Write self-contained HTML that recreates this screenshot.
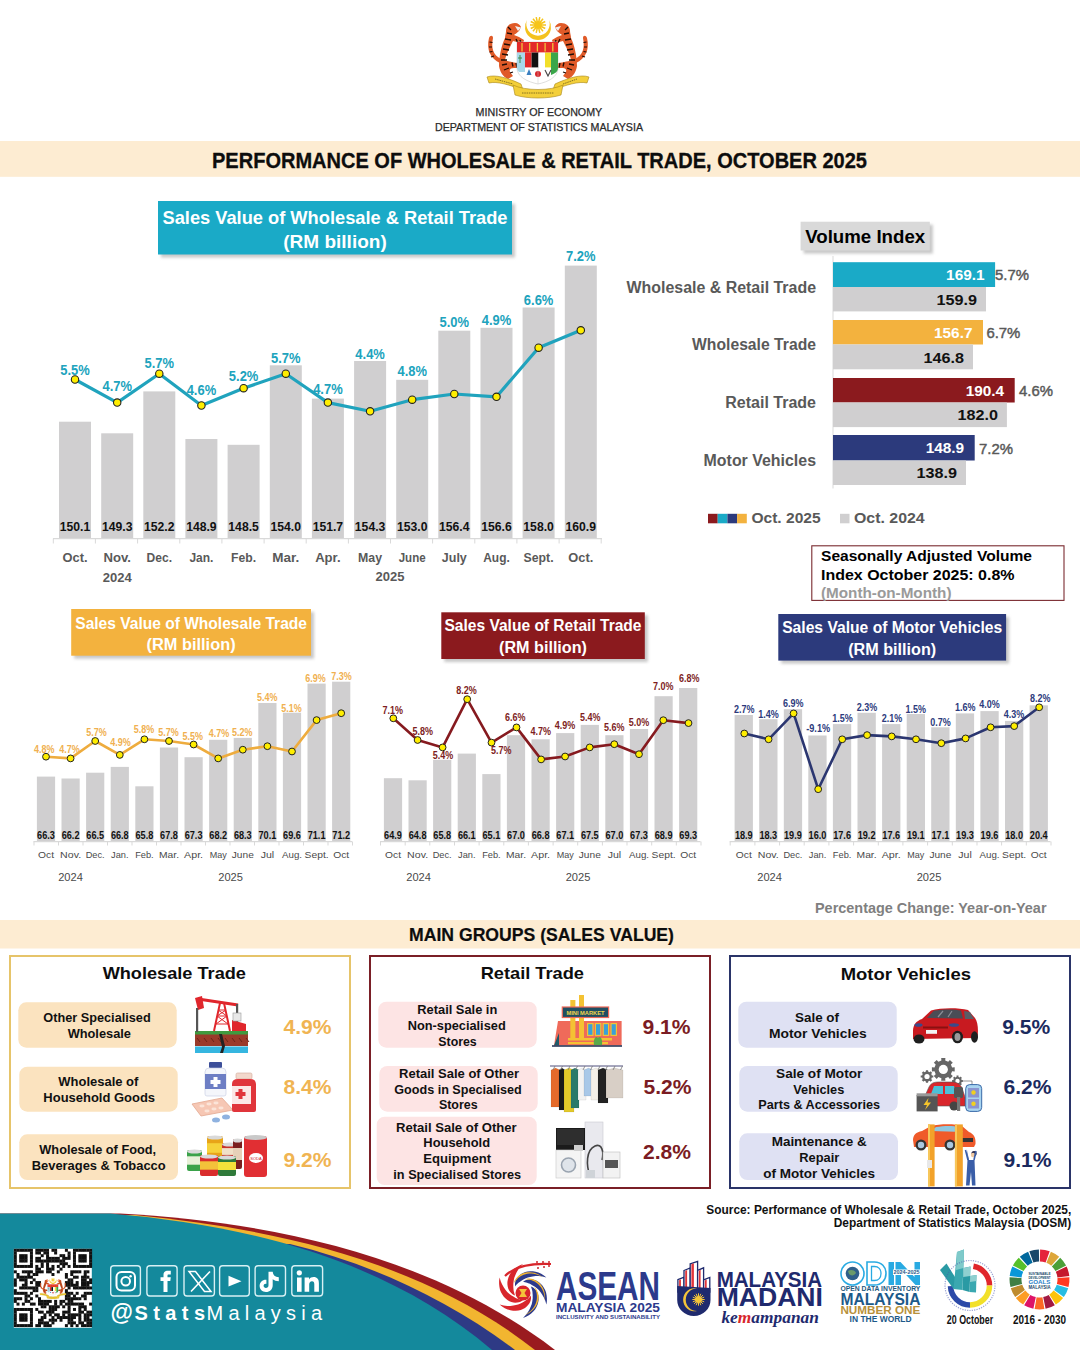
<!DOCTYPE html>
<html><head><meta charset="utf-8"><style>
html,body{margin:0;padding:0;background:#fff;}
svg{display:block;font-family:"Liberation Sans", sans-serif;}
</style></head><body>
<svg width="1080" height="1350" viewBox="0 0 1080 1350">
<defs><filter id="blur" x="-10%" y="-10%" width="120%" height="130%"><feGaussianBlur stdDeviation="1.5"/></filter></defs>
<rect width="1080" height="1350" fill="#fff"/>
<g>
<g><path d="M500 63 C491 59 486 50 489 38 C490 35 493 35 493 38 C491 48 493 55 501 59 Z" fill="#e05a28"/><path d="M489.5 42 l3 0.5 M489 47 l3 0 M489.5 52 l3 -0.5 M491 57 l3 -1" stroke="#1e0c06" stroke-width="1.2"/><path d="M506 31 C506 26 510 23 515 23 C518 23 520 25 521 27 L519 31 C517 33 515 34 514 35 L519 37 L524 40 L523 44 L517 42 L513 41 C510 47 506 54 505 60 C508 62 515 62 520 64 L521 68 L514 68 C511 68 509 69 510 72 L513 76 L508 79 C503 77 500 72 499 66 C499 56 502 44 505 38 C505 36 506 33 506 31 Z" fill="#e05a28"/><path d="M515 26 L521 27.5 L518 31 Z" fill="#f0f0f0"/><path d="M508 27 L511 30 M507 33 L512 34 M505 39 L511 40 M504 44 L510 45 M503 49 L509 50 M502 54 L508 55 M501 60 L507 60 M502 65 L507 64 M504 70 L509 68 M516 39 L518 43 M520 40 L521 43.5 M512 62.5 L513 66.5 M516 63 L517 67.5 M510 73 L513 72" stroke="#1e0c06" stroke-width="1.3"/></g>
<g transform="translate(1076,0) scale(-1,1)"><g><path d="M500 63 C491 59 486 50 489 38 C490 35 493 35 493 38 C491 48 493 55 501 59 Z" fill="#e05a28"/><path d="M489.5 42 l3 0.5 M489 47 l3 0 M489.5 52 l3 -0.5 M491 57 l3 -1" stroke="#1e0c06" stroke-width="1.2"/><path d="M506 31 C506 26 510 23 515 23 C518 23 520 25 521 27 L519 31 C517 33 515 34 514 35 L519 37 L524 40 L523 44 L517 42 L513 41 C510 47 506 54 505 60 C508 62 515 62 520 64 L521 68 L514 68 C511 68 509 69 510 72 L513 76 L508 79 C503 77 500 72 499 66 C499 56 502 44 505 38 C505 36 506 33 506 31 Z" fill="#e05a28"/><path d="M515 26 L521 27.5 L518 31 Z" fill="#f0f0f0"/><path d="M508 27 L511 30 M507 33 L512 34 M505 39 L511 40 M504 44 L510 45 M503 49 L509 50 M502 54 L508 55 M501 60 L507 60 M502 65 L507 64 M504 70 L509 68 M516 39 L518 43 M520 40 L521 43.5 M512 62.5 L513 66.5 M516 63 L517 67.5 M510 73 L513 72" stroke="#1e0c06" stroke-width="1.3"/></g></g>
<path d="M527 20 A13.04 13.04 0 1 0 549 20 A11.7 11.7 0 1 1 527 20 Z" fill="#f4c21d"/>
<circle cx="538" cy="25" r="4" fill="#f6c51b"/>
<line x1="541.5" y1="25.0" x2="546.0" y2="25.0" stroke="#f6c51b" stroke-width="1.5"/><line x1="541.2" y1="26.5" x2="545.2" y2="28.5" stroke="#f6c51b" stroke-width="1.5"/><line x1="540.2" y1="27.7" x2="543.0" y2="31.3" stroke="#f6c51b" stroke-width="1.5"/><line x1="538.8" y1="28.4" x2="539.8" y2="32.8" stroke="#f6c51b" stroke-width="1.5"/><line x1="537.2" y1="28.4" x2="536.2" y2="32.8" stroke="#f6c51b" stroke-width="1.5"/><line x1="535.8" y1="27.7" x2="533.0" y2="31.3" stroke="#f6c51b" stroke-width="1.5"/><line x1="534.8" y1="26.5" x2="530.8" y2="28.5" stroke="#f6c51b" stroke-width="1.5"/><line x1="534.5" y1="25.0" x2="530.0" y2="25.0" stroke="#f6c51b" stroke-width="1.5"/><line x1="534.8" y1="23.5" x2="530.8" y2="21.5" stroke="#f6c51b" stroke-width="1.5"/><line x1="535.8" y1="22.3" x2="533.0" y2="18.7" stroke="#f6c51b" stroke-width="1.5"/><line x1="537.2" y1="21.6" x2="536.2" y2="17.2" stroke="#f6c51b" stroke-width="1.5"/><line x1="538.8" y1="21.6" x2="539.8" y2="17.2" stroke="#f6c51b" stroke-width="1.5"/><line x1="540.2" y1="22.3" x2="543.0" y2="18.7" stroke="#f6c51b" stroke-width="1.5"/><line x1="541.2" y1="23.5" x2="545.2" y2="21.5" stroke="#f6c51b" stroke-width="1.5"/>
<path d="M517 42 H558 V68 C558 77 548 82 538 84 C528 82 517 77 517 68 Z" fill="#fff" stroke="#c8c8c8" stroke-width="0.6"/>
<rect x="517" y="42" width="41" height="10.6" fill="#e32a2a"/>
<line x1="522.0" y1="43" x2="522.0" y2="51.5" stroke="#f3c33a" stroke-width="1.3"/>
<line x1="529.7" y1="43" x2="529.7" y2="51.5" stroke="#f3c33a" stroke-width="1.3"/>
<line x1="537.4" y1="43" x2="537.4" y2="51.5" stroke="#f3c33a" stroke-width="1.3"/>
<line x1="545.1" y1="43" x2="545.1" y2="51.5" stroke="#f3c33a" stroke-width="1.3"/>
<line x1="552.8" y1="43" x2="552.8" y2="51.5" stroke="#f3c33a" stroke-width="1.3"/>
<rect x="525" y="52.6" width="6.6" height="14.8" fill="#e32a2a"/><rect x="531.6" y="52.6" width="6.9" height="14.8" fill="#111"/><rect x="538.5" y="52.6" width="6.5" height="14.8" fill="#fff"/><rect x="545" y="52.6" width="6" height="14.8" fill="#f2df2a"/>
<path d="M517 52.6 H525 V72 H519 C517.5 70 517 69 517 68 Z" fill="#a8d8ea"/><path d="M520 55 l0 8 M518 58 h4" stroke="#3a8a4a" stroke-width="1"/>
<path d="M551 52.6 H558 V68 C558 71 556 73 551 75 Z" fill="#3aa64a"/>
<circle cx="538" cy="74" r="3" fill="#d8262c"/><path d="M545 70 l3 6 l3 -6" stroke="#444" fill="none" stroke-width="1.1"/><path d="M529 69 l-2.5 6 h5 z" fill="#3a7fc0"/>
<line x1="538" y1="67.4" x2="538" y2="84" stroke="#c8c8c8" stroke-width="0.5"/>
<path d="M487 77 C495 74 508 78 521 84 L523 90 C510 85 497 81 489 83 Z" fill="#f3cf3a" stroke="#a8861a" stroke-width="0.6"/>
<path d="M589 77 C581 74 568 78 555 84 L553 90 C566 85 579 81 587 83 Z" fill="#f3cf3a" stroke="#a8861a" stroke-width="0.6"/>
<path d="M513 85 C525 91 551 91 563 85 L561 95 C549 99 527 99 515 95 Z" fill="#f3cf3a" stroke="#a8861a" stroke-width="0.6"/>
<path d="M495 79 l18 5 M522 93 h32 M563 84 l14 -5" stroke="#6a5a1a" stroke-width="0.8" stroke-dasharray="1.5 0.8"/>
</g>
<text x="538.9" y="116.4" font-size="10.5" font-weight="normal" fill="#2b2b2b" text-anchor="middle" textLength="126.6" lengthAdjust="spacingAndGlyphs" stroke="#2b2b2b" stroke-width="0.25">MINISTRY OF ECONOMY</text>
<text x="539.0" y="131.0" font-size="10.5" font-weight="normal" fill="#2b2b2b" text-anchor="middle" textLength="208.0" lengthAdjust="spacingAndGlyphs" stroke="#2b2b2b" stroke-width="0.25">DEPARTMENT OF STATISTICS MALAYSIA</text>
<rect x="0.0" y="141.0" width="1080.0" height="35.8" fill="#fdecd2" />
<text x="539.5" y="168.0" font-size="22" font-weight="bold" fill="#0d0d0d" text-anchor="middle" textLength="655.0" lengthAdjust="spacingAndGlyphs" stroke="#0d0d0d" stroke-width="0.3">PERFORMANCE OF WHOLESALE &amp; RETAIL TRADE, OCTOBER 2025</text>
<rect x="161.0" y="204.0" width="354.0" height="53.5" fill="#9a9a9a" opacity="0.55" filter="url(#blur)"/>
<rect x="158.0" y="201.0" width="354.0" height="53.5" fill="#1aaac7" />
<text x="335.0" y="224.0" font-size="18.5" font-weight="bold" fill="#fff" text-anchor="middle" textLength="345.0" lengthAdjust="spacingAndGlyphs" >Sales Value of Wholesale &amp; Retail Trade</text>
<text x="335.0" y="248.3" font-size="18.5" font-weight="bold" fill="#fff" text-anchor="middle" textLength="103.5" lengthAdjust="spacingAndGlyphs" >(RM billion)</text>
<rect x="59.0" y="421.7" width="32.0" height="116.8" fill="#d0cfd0" />
<rect x="101.2" y="433.3" width="32.0" height="105.2" fill="#d0cfd0" />
<rect x="143.3" y="391.4" width="32.0" height="147.1" fill="#d0cfd0" />
<rect x="185.4" y="439.0" width="32.0" height="99.5" fill="#d0cfd0" />
<rect x="227.6" y="444.8" width="32.0" height="93.7" fill="#d0cfd0" />
<rect x="269.8" y="365.3" width="32.0" height="173.2" fill="#d0cfd0" />
<rect x="311.9" y="398.6" width="32.0" height="139.9" fill="#d0cfd0" />
<rect x="354.1" y="361.0" width="32.0" height="177.5" fill="#d0cfd0" />
<rect x="396.2" y="379.8" width="32.0" height="158.7" fill="#d0cfd0" />
<rect x="438.3" y="330.7" width="32.0" height="207.8" fill="#d0cfd0" />
<rect x="480.5" y="327.8" width="32.0" height="210.7" fill="#d0cfd0" />
<rect x="522.6" y="307.5" width="32.0" height="231.0" fill="#d0cfd0" />
<rect x="564.8" y="265.6" width="32.0" height="272.9" fill="#d0cfd0" />
<line x1="53" y1="538.7" x2="602" y2="538.7" stroke="#d9d9d9" stroke-width="1.2"/>
<line x1="53.3" y1="538.5" x2="53.3" y2="543.5" stroke="#d9d9d9" stroke-width="1"/>
<line x1="95.4" y1="538.5" x2="95.4" y2="543.5" stroke="#d9d9d9" stroke-width="1"/>
<line x1="137.6" y1="538.5" x2="137.6" y2="543.5" stroke="#d9d9d9" stroke-width="1"/>
<line x1="179.8" y1="538.5" x2="179.8" y2="543.5" stroke="#d9d9d9" stroke-width="1"/>
<line x1="221.9" y1="538.5" x2="221.9" y2="543.5" stroke="#d9d9d9" stroke-width="1"/>
<line x1="264.1" y1="538.5" x2="264.1" y2="543.5" stroke="#d9d9d9" stroke-width="1"/>
<line x1="306.2" y1="538.5" x2="306.2" y2="543.5" stroke="#d9d9d9" stroke-width="1"/>
<line x1="348.4" y1="538.5" x2="348.4" y2="543.5" stroke="#d9d9d9" stroke-width="1"/>
<line x1="390.5" y1="538.5" x2="390.5" y2="543.5" stroke="#d9d9d9" stroke-width="1"/>
<line x1="432.6" y1="538.5" x2="432.6" y2="543.5" stroke="#d9d9d9" stroke-width="1"/>
<line x1="474.8" y1="538.5" x2="474.8" y2="543.5" stroke="#d9d9d9" stroke-width="1"/>
<line x1="516.9" y1="538.5" x2="516.9" y2="543.5" stroke="#d9d9d9" stroke-width="1"/>
<line x1="559.1" y1="538.5" x2="559.1" y2="543.5" stroke="#d9d9d9" stroke-width="1"/>
<line x1="601.2" y1="538.5" x2="601.2" y2="543.5" stroke="#d9d9d9" stroke-width="1"/>
<path d="M75.0 379.5 L117.2 402.6 L159.3 373.7 L201.4 405.5 L243.6 388.2 L285.8 373.7 L327.9 402.6 L370.1 411.3 L412.2 399.7 L454.3 394.0 L496.5 396.8 L538.6 347.7 L580.8 330.3" fill="none" stroke="#20a3bd" stroke-width="3.2" stroke-linejoin="round"/>
<circle cx="75.0" cy="379.5" r="3.7" fill="#ffee00" stroke="#222" stroke-width="1.1"/>
<circle cx="117.2" cy="402.6" r="3.7" fill="#ffee00" stroke="#222" stroke-width="1.1"/>
<circle cx="159.3" cy="373.7" r="3.7" fill="#ffee00" stroke="#222" stroke-width="1.1"/>
<circle cx="201.4" cy="405.5" r="3.7" fill="#ffee00" stroke="#222" stroke-width="1.1"/>
<circle cx="243.6" cy="388.2" r="3.7" fill="#ffee00" stroke="#222" stroke-width="1.1"/>
<circle cx="285.8" cy="373.7" r="3.7" fill="#ffee00" stroke="#222" stroke-width="1.1"/>
<circle cx="327.9" cy="402.6" r="3.7" fill="#ffee00" stroke="#222" stroke-width="1.1"/>
<circle cx="370.1" cy="411.3" r="3.7" fill="#ffee00" stroke="#222" stroke-width="1.1"/>
<circle cx="412.2" cy="399.7" r="3.7" fill="#ffee00" stroke="#222" stroke-width="1.1"/>
<circle cx="454.3" cy="394.0" r="3.7" fill="#ffee00" stroke="#222" stroke-width="1.1"/>
<circle cx="496.5" cy="396.8" r="3.7" fill="#ffee00" stroke="#222" stroke-width="1.1"/>
<circle cx="538.6" cy="347.7" r="3.7" fill="#ffee00" stroke="#222" stroke-width="1.1"/>
<circle cx="580.8" cy="330.3" r="3.7" fill="#ffee00" stroke="#222" stroke-width="1.1"/>
<text x="75.0" y="375.0" font-size="14" font-weight="bold" fill="#20a3bd" text-anchor="middle" textLength="29.5" lengthAdjust="spacingAndGlyphs" >5.5%</text>
<text x="75.0" y="530.6" font-size="13.5" font-weight="bold" fill="#111" text-anchor="middle" textLength="30.5" lengthAdjust="spacingAndGlyphs" >150.1</text>
<text x="75.0" y="562.3" font-size="13.5" font-weight="bold" fill="#595959" text-anchor="middle" textLength="25.0" lengthAdjust="spacingAndGlyphs" >Oct.</text>
<text x="117.2" y="391.0" font-size="14" font-weight="bold" fill="#20a3bd" text-anchor="middle" textLength="29.5" lengthAdjust="spacingAndGlyphs" >4.7%</text>
<text x="117.2" y="530.6" font-size="13.5" font-weight="bold" fill="#111" text-anchor="middle" textLength="30.5" lengthAdjust="spacingAndGlyphs" >149.3</text>
<text x="117.2" y="562.3" font-size="13.5" font-weight="bold" fill="#595959" text-anchor="middle" textLength="27.5" lengthAdjust="spacingAndGlyphs" >Nov.</text>
<text x="159.3" y="367.5" font-size="14" font-weight="bold" fill="#20a3bd" text-anchor="middle" textLength="29.5" lengthAdjust="spacingAndGlyphs" >5.7%</text>
<text x="159.3" y="530.6" font-size="13.5" font-weight="bold" fill="#111" text-anchor="middle" textLength="30.5" lengthAdjust="spacingAndGlyphs" >152.2</text>
<text x="159.3" y="562.3" font-size="13.5" font-weight="bold" fill="#595959" text-anchor="middle" textLength="25.5" lengthAdjust="spacingAndGlyphs" >Dec.</text>
<text x="201.4" y="395.3" font-size="14" font-weight="bold" fill="#20a3bd" text-anchor="middle" textLength="29.5" lengthAdjust="spacingAndGlyphs" >4.6%</text>
<text x="201.4" y="530.6" font-size="13.5" font-weight="bold" fill="#111" text-anchor="middle" textLength="30.5" lengthAdjust="spacingAndGlyphs" >148.9</text>
<text x="201.4" y="562.3" font-size="13.5" font-weight="bold" fill="#595959" text-anchor="middle" textLength="24.0" lengthAdjust="spacingAndGlyphs" >Jan.</text>
<text x="243.6" y="380.5" font-size="14" font-weight="bold" fill="#20a3bd" text-anchor="middle" textLength="29.5" lengthAdjust="spacingAndGlyphs" >5.2%</text>
<text x="243.6" y="530.6" font-size="13.5" font-weight="bold" fill="#111" text-anchor="middle" textLength="30.5" lengthAdjust="spacingAndGlyphs" >148.5</text>
<text x="243.6" y="562.3" font-size="13.5" font-weight="bold" fill="#595959" text-anchor="middle" textLength="25.0" lengthAdjust="spacingAndGlyphs" >Feb.</text>
<text x="285.8" y="363.3" font-size="14" font-weight="bold" fill="#20a3bd" text-anchor="middle" textLength="29.5" lengthAdjust="spacingAndGlyphs" >5.7%</text>
<text x="285.8" y="530.6" font-size="13.5" font-weight="bold" fill="#111" text-anchor="middle" textLength="30.5" lengthAdjust="spacingAndGlyphs" >154.0</text>
<text x="285.8" y="562.3" font-size="13.5" font-weight="bold" fill="#595959" text-anchor="middle" textLength="27.0" lengthAdjust="spacingAndGlyphs" >Mar.</text>
<text x="327.9" y="393.8" font-size="14" font-weight="bold" fill="#20a3bd" text-anchor="middle" textLength="29.5" lengthAdjust="spacingAndGlyphs" >4.7%</text>
<text x="327.9" y="530.6" font-size="13.5" font-weight="bold" fill="#111" text-anchor="middle" textLength="30.5" lengthAdjust="spacingAndGlyphs" >151.7</text>
<text x="327.9" y="562.3" font-size="13.5" font-weight="bold" fill="#595959" text-anchor="middle" textLength="25.5" lengthAdjust="spacingAndGlyphs" >Apr.</text>
<text x="370.1" y="359.2" font-size="14" font-weight="bold" fill="#20a3bd" text-anchor="middle" textLength="29.5" lengthAdjust="spacingAndGlyphs" >4.4%</text>
<text x="370.1" y="530.6" font-size="13.5" font-weight="bold" fill="#111" text-anchor="middle" textLength="30.5" lengthAdjust="spacingAndGlyphs" >154.3</text>
<text x="370.1" y="562.3" font-size="13.5" font-weight="bold" fill="#595959" text-anchor="middle" textLength="24.0" lengthAdjust="spacingAndGlyphs" >May</text>
<text x="412.2" y="376.2" font-size="14" font-weight="bold" fill="#20a3bd" text-anchor="middle" textLength="29.5" lengthAdjust="spacingAndGlyphs" >4.8%</text>
<text x="412.2" y="530.6" font-size="13.5" font-weight="bold" fill="#111" text-anchor="middle" textLength="30.5" lengthAdjust="spacingAndGlyphs" >153.0</text>
<text x="412.2" y="562.3" font-size="13.5" font-weight="bold" fill="#595959" text-anchor="middle" textLength="27.0" lengthAdjust="spacingAndGlyphs" >June</text>
<text x="454.3" y="327.0" font-size="14" font-weight="bold" fill="#20a3bd" text-anchor="middle" textLength="29.5" lengthAdjust="spacingAndGlyphs" >5.0%</text>
<text x="454.3" y="530.6" font-size="13.5" font-weight="bold" fill="#111" text-anchor="middle" textLength="30.5" lengthAdjust="spacingAndGlyphs" >156.4</text>
<text x="454.3" y="562.3" font-size="13.5" font-weight="bold" fill="#595959" text-anchor="middle" textLength="25.0" lengthAdjust="spacingAndGlyphs" >July</text>
<text x="496.5" y="324.6" font-size="14" font-weight="bold" fill="#20a3bd" text-anchor="middle" textLength="29.5" lengthAdjust="spacingAndGlyphs" >4.9%</text>
<text x="496.5" y="530.6" font-size="13.5" font-weight="bold" fill="#111" text-anchor="middle" textLength="30.5" lengthAdjust="spacingAndGlyphs" >156.6</text>
<text x="496.5" y="562.3" font-size="13.5" font-weight="bold" fill="#595959" text-anchor="middle" textLength="26.5" lengthAdjust="spacingAndGlyphs" >Aug.</text>
<text x="538.6" y="305.0" font-size="14" font-weight="bold" fill="#20a3bd" text-anchor="middle" textLength="29.5" lengthAdjust="spacingAndGlyphs" >6.6%</text>
<text x="538.6" y="530.6" font-size="13.5" font-weight="bold" fill="#111" text-anchor="middle" textLength="30.5" lengthAdjust="spacingAndGlyphs" >158.0</text>
<text x="538.6" y="562.3" font-size="13.5" font-weight="bold" fill="#595959" text-anchor="middle" textLength="30.0" lengthAdjust="spacingAndGlyphs" >Sept.</text>
<text x="580.8" y="261.2" font-size="14" font-weight="bold" fill="#20a3bd" text-anchor="middle" textLength="29.5" lengthAdjust="spacingAndGlyphs" >7.2%</text>
<text x="580.8" y="530.6" font-size="13.5" font-weight="bold" fill="#111" text-anchor="middle" textLength="30.5" lengthAdjust="spacingAndGlyphs" >160.9</text>
<text x="580.8" y="562.3" font-size="13.5" font-weight="bold" fill="#595959" text-anchor="middle" textLength="25.0" lengthAdjust="spacingAndGlyphs" >Oct.</text>
<text x="117.2" y="581.8" font-size="13.5" font-weight="bold" fill="#595959" text-anchor="middle" textLength="29.0" lengthAdjust="spacingAndGlyphs" >2024</text>
<text x="390.0" y="581.1" font-size="13.5" font-weight="bold" fill="#595959" text-anchor="middle" textLength="29.0" lengthAdjust="spacingAndGlyphs" >2025</text>
<rect x="803.6" y="224.7" width="129.2" height="28.8" fill="#8f8f8f" opacity="0.5" filter="url(#blur)"/>
<rect x="800.6" y="221.7" width="129.2" height="28.8" fill="#d9d9d9" />
<text x="865.2" y="242.7" font-size="18" font-weight="bold" fill="#000" text-anchor="middle" textLength="120.0" lengthAdjust="spacingAndGlyphs" >Volume Index</text>
<line x1="833" y1="256" x2="833" y2="488.5" stroke="#d9d9d9" stroke-width="1"/>
<rect x="833.0" y="262.2" width="162.1" height="24.8" fill="#1aaac7" />
<rect x="833.0" y="287.0" width="153.0" height="24.4" fill="#d0cfd0" />
<text x="984.6" y="280.2" font-size="15.5" font-weight="bold" fill="#fff" text-anchor="end" textLength="38.5" lengthAdjust="spacingAndGlyphs" >169.1</text>
<text x="977.0" y="304.8" font-size="15.5" font-weight="bold" fill="#111" text-anchor="end" textLength="40.5" lengthAdjust="spacingAndGlyphs" >159.9</text>
<text x="995.0" y="280.4" font-size="15.5" font-weight="normal" fill="#595959" text-anchor="start" textLength="34.0" lengthAdjust="spacingAndGlyphs" stroke="#595959" stroke-width="0.45">5.7%</text>
<text x="816.0" y="292.6" font-size="15.8" font-weight="bold" fill="#595959" text-anchor="end" textLength="189.5" lengthAdjust="spacingAndGlyphs" >Wholesale &amp; Retail Trade</text>
<rect x="833.0" y="320.0" width="150.0" height="24.5" fill="#f3b23e" />
<rect x="833.0" y="344.5" width="140.0" height="24.8" fill="#d0cfd0" />
<text x="972.5" y="337.9" font-size="15.5" font-weight="bold" fill="#fff" text-anchor="end" textLength="38.5" lengthAdjust="spacingAndGlyphs" >156.7</text>
<text x="964.0" y="362.5" font-size="15.5" font-weight="bold" fill="#111" text-anchor="end" textLength="40.5" lengthAdjust="spacingAndGlyphs" >146.8</text>
<text x="986.4" y="338.1" font-size="15.5" font-weight="normal" fill="#595959" text-anchor="start" textLength="34.0" lengthAdjust="spacingAndGlyphs" stroke="#595959" stroke-width="0.45">6.7%</text>
<text x="816.0" y="349.9" font-size="15.8" font-weight="bold" fill="#595959" text-anchor="end" textLength="124.0" lengthAdjust="spacingAndGlyphs" >Wholesale Trade</text>
<rect x="833.0" y="378.0" width="181.7" height="24.5" fill="#8b1a1e" />
<rect x="833.0" y="402.5" width="173.9" height="24.6" fill="#d0cfd0" />
<text x="1004.2" y="395.9" font-size="15.5" font-weight="bold" fill="#fff" text-anchor="end" textLength="38.5" lengthAdjust="spacingAndGlyphs" >190.4</text>
<text x="997.9" y="420.4" font-size="15.5" font-weight="bold" fill="#111" text-anchor="end" textLength="40.5" lengthAdjust="spacingAndGlyphs" >182.0</text>
<text x="1019.0" y="396.1" font-size="15.5" font-weight="normal" fill="#595959" text-anchor="start" textLength="34.0" lengthAdjust="spacingAndGlyphs" stroke="#595959" stroke-width="0.45">4.6%</text>
<text x="816.0" y="407.6" font-size="15.8" font-weight="bold" fill="#595959" text-anchor="end" textLength="90.7" lengthAdjust="spacingAndGlyphs" >Retail Trade</text>
<rect x="833.0" y="435.0" width="141.7" height="25.5" fill="#2c3a7c" />
<rect x="833.0" y="460.5" width="133.0" height="24.5" fill="#d0cfd0" />
<text x="964.2" y="453.4" font-size="15.5" font-weight="bold" fill="#fff" text-anchor="end" textLength="38.5" lengthAdjust="spacingAndGlyphs" >148.9</text>
<text x="957.0" y="478.4" font-size="15.5" font-weight="bold" fill="#111" text-anchor="end" textLength="40.5" lengthAdjust="spacingAndGlyphs" >138.9</text>
<text x="979.0" y="453.6" font-size="15.5" font-weight="normal" fill="#595959" text-anchor="start" textLength="34.0" lengthAdjust="spacingAndGlyphs" stroke="#595959" stroke-width="0.45">7.2%</text>
<text x="816.0" y="466.3" font-size="15.8" font-weight="bold" fill="#595959" text-anchor="end" textLength="112.4" lengthAdjust="spacingAndGlyphs" >Motor Vehicles</text>
<rect x="708.0" y="513.8" width="9.7" height="9.5" fill="#8b1a1e" />
<rect x="717.7" y="513.8" width="9.7" height="9.5" fill="#1aaac7" />
<rect x="727.4" y="513.8" width="9.7" height="9.5" fill="#2c3a7c" />
<rect x="737.1" y="513.8" width="9.7" height="9.5" fill="#f3b23e" />
<text x="751.4" y="523.3" font-size="14.6" font-weight="bold" fill="#595959" text-anchor="start" textLength="69.3" lengthAdjust="spacingAndGlyphs" >Oct. 2025</text>
<rect x="840.0" y="513.8" width="9.5" height="9.5" fill="#d0cfd0" />
<text x="854.0" y="523.3" font-size="14.6" font-weight="bold" fill="#595959" text-anchor="start" textLength="70.7" lengthAdjust="spacingAndGlyphs" >Oct. 2024</text>
<rect x="811.8" y="545.8" width="252.2" height="54.6" fill="#fff" stroke="#7a2b30" stroke-width="1.1"/>
<text x="821.0" y="561.3" font-size="14.6" font-weight="bold" fill="#000" text-anchor="start" textLength="211.0" lengthAdjust="spacingAndGlyphs" >Seasonally Adjusted Volume</text>
<text x="821.0" y="580.2" font-size="14.6" font-weight="bold" fill="#000" text-anchor="start" textLength="193.5" lengthAdjust="spacingAndGlyphs" >Index October 2025: 0.8%</text>
<text x="821.0" y="597.5" font-size="14.6" font-weight="bold" fill="#9a9a9a" text-anchor="start" textLength="130.5" lengthAdjust="spacingAndGlyphs" >(Month-on-Month)</text>
<rect x="74.2" y="612.0" width="239.8" height="46.7" fill="#9a9a9a" opacity="0.55" filter="url(#blur)"/>
<rect x="71.2" y="609.0" width="239.8" height="46.7" fill="#f3b23e" />
<text x="191.1" y="628.5" font-size="16" font-weight="bold" fill="#fff" text-anchor="middle" textLength="231.7" lengthAdjust="spacingAndGlyphs" >Sales Value of Wholesale Trade</text>
<text x="191.1" y="650.2" font-size="16" font-weight="bold" fill="#fff" text-anchor="middle" textLength="89.0" lengthAdjust="spacingAndGlyphs" >(RM billion)</text>
<rect x="36.9" y="776.6" width="18.2" height="64.8" fill="#d0cfd0" />
<rect x="61.5" y="778.5" width="18.2" height="62.9" fill="#d0cfd0" />
<rect x="86.1" y="772.7" width="18.2" height="68.7" fill="#d0cfd0" />
<rect x="110.7" y="766.9" width="18.2" height="74.5" fill="#d0cfd0" />
<rect x="135.3" y="786.3" width="18.2" height="55.1" fill="#d0cfd0" />
<rect x="159.9" y="747.5" width="18.2" height="93.9" fill="#d0cfd0" />
<rect x="184.5" y="757.2" width="18.2" height="84.2" fill="#d0cfd0" />
<rect x="209.1" y="739.8" width="18.2" height="101.6" fill="#d0cfd0" />
<rect x="233.7" y="737.9" width="18.2" height="103.5" fill="#d0cfd0" />
<rect x="258.3" y="703.0" width="18.2" height="138.4" fill="#d0cfd0" />
<rect x="282.9" y="712.7" width="18.2" height="128.7" fill="#d0cfd0" />
<rect x="307.5" y="683.6" width="18.2" height="157.8" fill="#d0cfd0" />
<rect x="332.1" y="681.7" width="18.2" height="159.7" fill="#d0cfd0" />
<line x1="33.5" y1="841.6" x2="352" y2="841.6" stroke="#d9d9d9" stroke-width="1.2"/>
<line x1="34.0" y1="841.5" x2="34.0" y2="845.5" stroke="#d9d9d9" stroke-width="1"/>
<line x1="58.5" y1="841.5" x2="58.5" y2="845.5" stroke="#d9d9d9" stroke-width="1"/>
<line x1="83.0" y1="841.5" x2="83.0" y2="845.5" stroke="#d9d9d9" stroke-width="1"/>
<line x1="107.5" y1="841.5" x2="107.5" y2="845.5" stroke="#d9d9d9" stroke-width="1"/>
<line x1="132.0" y1="841.5" x2="132.0" y2="845.5" stroke="#d9d9d9" stroke-width="1"/>
<line x1="156.5" y1="841.5" x2="156.5" y2="845.5" stroke="#d9d9d9" stroke-width="1"/>
<line x1="181.0" y1="841.5" x2="181.0" y2="845.5" stroke="#d9d9d9" stroke-width="1"/>
<line x1="205.5" y1="841.5" x2="205.5" y2="845.5" stroke="#d9d9d9" stroke-width="1"/>
<line x1="230.0" y1="841.5" x2="230.0" y2="845.5" stroke="#d9d9d9" stroke-width="1"/>
<line x1="254.5" y1="841.5" x2="254.5" y2="845.5" stroke="#d9d9d9" stroke-width="1"/>
<line x1="279.0" y1="841.5" x2="279.0" y2="845.5" stroke="#d9d9d9" stroke-width="1"/>
<line x1="303.5" y1="841.5" x2="303.5" y2="845.5" stroke="#d9d9d9" stroke-width="1"/>
<line x1="328.0" y1="841.5" x2="328.0" y2="845.5" stroke="#d9d9d9" stroke-width="1"/>
<line x1="352.5" y1="841.5" x2="352.5" y2="845.5" stroke="#d9d9d9" stroke-width="1"/>
<path d="M46.0 756.7 L70.6 758.4 L95.2 741.0 L119.8 754.9 L144.4 739.3 L169.0 741.0 L193.6 744.5 L218.2 758.4 L242.8 749.7 L267.4 746.2 L292.0 751.5 L316.6 720.1 L341.2 713.2" fill="none" stroke="#eeac3e" stroke-width="2.6" stroke-linejoin="round"/>
<circle cx="46.0" cy="756.7" r="3.4" fill="#ffee00" stroke="#222" stroke-width="1.0"/>
<circle cx="70.6" cy="758.4" r="3.4" fill="#ffee00" stroke="#222" stroke-width="1.0"/>
<circle cx="95.2" cy="741.0" r="3.4" fill="#ffee00" stroke="#222" stroke-width="1.0"/>
<circle cx="119.8" cy="754.9" r="3.4" fill="#ffee00" stroke="#222" stroke-width="1.0"/>
<circle cx="144.4" cy="739.3" r="3.4" fill="#ffee00" stroke="#222" stroke-width="1.0"/>
<circle cx="169.0" cy="741.0" r="3.4" fill="#ffee00" stroke="#222" stroke-width="1.0"/>
<circle cx="193.6" cy="744.5" r="3.4" fill="#ffee00" stroke="#222" stroke-width="1.0"/>
<circle cx="218.2" cy="758.4" r="3.4" fill="#ffee00" stroke="#222" stroke-width="1.0"/>
<circle cx="242.8" cy="749.7" r="3.4" fill="#ffee00" stroke="#222" stroke-width="1.0"/>
<circle cx="267.4" cy="746.2" r="3.4" fill="#ffee00" stroke="#222" stroke-width="1.0"/>
<circle cx="292.0" cy="751.5" r="3.4" fill="#ffee00" stroke="#222" stroke-width="1.0"/>
<circle cx="316.6" cy="720.1" r="3.4" fill="#ffee00" stroke="#222" stroke-width="1.0"/>
<circle cx="341.2" cy="713.2" r="3.4" fill="#ffee00" stroke="#222" stroke-width="1.0"/>
<text x="44.3" y="752.7" font-size="10.2" font-weight="bold" fill="#f0b050" text-anchor="middle" textLength="20.5" lengthAdjust="spacingAndGlyphs" >4.8%</text>
<text x="69.6" y="752.7" font-size="10.2" font-weight="bold" fill="#f0b050" text-anchor="middle" textLength="20.5" lengthAdjust="spacingAndGlyphs" >4.7%</text>
<text x="96.5" y="735.9" font-size="10.2" font-weight="bold" fill="#f0b050" text-anchor="middle" textLength="20.5" lengthAdjust="spacingAndGlyphs" >5.7%</text>
<text x="120.5" y="746.3" font-size="10.2" font-weight="bold" fill="#f0b050" text-anchor="middle" textLength="20.5" lengthAdjust="spacingAndGlyphs" >4.9%</text>
<text x="144.1" y="733.3" font-size="10.2" font-weight="bold" fill="#f0b050" text-anchor="middle" textLength="20.5" lengthAdjust="spacingAndGlyphs" >5.8%</text>
<text x="168.4" y="735.9" font-size="10.2" font-weight="bold" fill="#f0b050" text-anchor="middle" textLength="20.5" lengthAdjust="spacingAndGlyphs" >5.7%</text>
<text x="192.7" y="739.8" font-size="10.2" font-weight="bold" fill="#f0b050" text-anchor="middle" textLength="20.5" lengthAdjust="spacingAndGlyphs" >5.5%</text>
<text x="219.0" y="736.9" font-size="10.2" font-weight="bold" fill="#f0b050" text-anchor="middle" textLength="20.5" lengthAdjust="spacingAndGlyphs" >4.7%</text>
<text x="242.3" y="735.9" font-size="10.2" font-weight="bold" fill="#f0b050" text-anchor="middle" textLength="20.5" lengthAdjust="spacingAndGlyphs" >5.2%</text>
<text x="267.2" y="700.9" font-size="10.2" font-weight="bold" fill="#f0b050" text-anchor="middle" textLength="20.5" lengthAdjust="spacingAndGlyphs" >5.4%</text>
<text x="291.6" y="711.7" font-size="10.2" font-weight="bold" fill="#f0b050" text-anchor="middle" textLength="20.5" lengthAdjust="spacingAndGlyphs" >5.1%</text>
<text x="315.5" y="681.5" font-size="10.2" font-weight="bold" fill="#f0b050" text-anchor="middle" textLength="20.5" lengthAdjust="spacingAndGlyphs" >6.9%</text>
<text x="341.5" y="679.5" font-size="10.2" font-weight="bold" fill="#f0b050" text-anchor="middle" textLength="20.5" lengthAdjust="spacingAndGlyphs" >7.3%</text>
<text x="46.0" y="838.9" font-size="10.2" font-weight="bold" fill="#111" text-anchor="middle" textLength="17.8" lengthAdjust="spacingAndGlyphs" >66.3</text>
<text x="70.6" y="838.9" font-size="10.2" font-weight="bold" fill="#111" text-anchor="middle" textLength="17.8" lengthAdjust="spacingAndGlyphs" >66.2</text>
<text x="95.2" y="838.9" font-size="10.2" font-weight="bold" fill="#111" text-anchor="middle" textLength="17.8" lengthAdjust="spacingAndGlyphs" >66.5</text>
<text x="119.8" y="838.9" font-size="10.2" font-weight="bold" fill="#111" text-anchor="middle" textLength="17.8" lengthAdjust="spacingAndGlyphs" >66.8</text>
<text x="144.4" y="838.9" font-size="10.2" font-weight="bold" fill="#111" text-anchor="middle" textLength="17.8" lengthAdjust="spacingAndGlyphs" >65.8</text>
<text x="169.0" y="838.9" font-size="10.2" font-weight="bold" fill="#111" text-anchor="middle" textLength="17.8" lengthAdjust="spacingAndGlyphs" >67.8</text>
<text x="193.6" y="838.9" font-size="10.2" font-weight="bold" fill="#111" text-anchor="middle" textLength="17.8" lengthAdjust="spacingAndGlyphs" >67.3</text>
<text x="218.2" y="838.9" font-size="10.2" font-weight="bold" fill="#111" text-anchor="middle" textLength="17.8" lengthAdjust="spacingAndGlyphs" >68.2</text>
<text x="242.8" y="838.9" font-size="10.2" font-weight="bold" fill="#111" text-anchor="middle" textLength="17.8" lengthAdjust="spacingAndGlyphs" >68.3</text>
<text x="267.4" y="838.9" font-size="10.2" font-weight="bold" fill="#111" text-anchor="middle" textLength="17.8" lengthAdjust="spacingAndGlyphs" >70.1</text>
<text x="292.0" y="838.9" font-size="10.2" font-weight="bold" fill="#111" text-anchor="middle" textLength="17.8" lengthAdjust="spacingAndGlyphs" >69.6</text>
<text x="316.6" y="838.9" font-size="10.2" font-weight="bold" fill="#111" text-anchor="middle" textLength="17.8" lengthAdjust="spacingAndGlyphs" >71.1</text>
<text x="341.2" y="838.9" font-size="10.2" font-weight="bold" fill="#111" text-anchor="middle" textLength="17.8" lengthAdjust="spacingAndGlyphs" >71.2</text>
<text x="46.0" y="857.9" font-size="9.2" font-weight="normal" fill="#4a4a4a" text-anchor="middle" textLength="16.0" lengthAdjust="spacingAndGlyphs" >Oct</text>
<text x="70.6" y="857.9" font-size="9.2" font-weight="normal" fill="#4a4a4a" text-anchor="middle" textLength="21.0" lengthAdjust="spacingAndGlyphs" >Nov.</text>
<text x="95.2" y="857.9" font-size="9.2" font-weight="normal" fill="#4a4a4a" text-anchor="middle" textLength="19.0" lengthAdjust="spacingAndGlyphs" >Dec.</text>
<text x="119.8" y="857.9" font-size="9.2" font-weight="normal" fill="#4a4a4a" text-anchor="middle" textLength="17.5" lengthAdjust="spacingAndGlyphs" >Jan.</text>
<text x="144.4" y="857.9" font-size="9.2" font-weight="normal" fill="#4a4a4a" text-anchor="middle" textLength="18.5" lengthAdjust="spacingAndGlyphs" >Feb.</text>
<text x="169.0" y="857.9" font-size="9.2" font-weight="normal" fill="#4a4a4a" text-anchor="middle" textLength="20.0" lengthAdjust="spacingAndGlyphs" >Mar.</text>
<text x="193.6" y="857.9" font-size="9.2" font-weight="normal" fill="#4a4a4a" text-anchor="middle" textLength="19.0" lengthAdjust="spacingAndGlyphs" >Apr.</text>
<text x="218.2" y="857.9" font-size="9.2" font-weight="normal" fill="#4a4a4a" text-anchor="middle" textLength="17.0" lengthAdjust="spacingAndGlyphs" >May</text>
<text x="242.8" y="857.9" font-size="9.2" font-weight="normal" fill="#4a4a4a" text-anchor="middle" textLength="22.0" lengthAdjust="spacingAndGlyphs" >June</text>
<text x="267.4" y="857.9" font-size="9.2" font-weight="normal" fill="#4a4a4a" text-anchor="middle" textLength="13.5" lengthAdjust="spacingAndGlyphs" >Jul</text>
<text x="292.0" y="857.9" font-size="9.2" font-weight="normal" fill="#4a4a4a" text-anchor="middle" textLength="20.0" lengthAdjust="spacingAndGlyphs" >Aug.</text>
<text x="316.6" y="857.9" font-size="9.2" font-weight="normal" fill="#4a4a4a" text-anchor="middle" textLength="24.0" lengthAdjust="spacingAndGlyphs" >Sept.</text>
<text x="341.2" y="857.9" font-size="9.2" font-weight="normal" fill="#4a4a4a" text-anchor="middle" textLength="16.0" lengthAdjust="spacingAndGlyphs" >Oct</text>
<text x="70.5" y="880.8" font-size="10.5" font-weight="normal" fill="#4a4a4a" text-anchor="middle" textLength="24.7" lengthAdjust="spacingAndGlyphs" >2024</text>
<text x="230.6" y="880.8" font-size="10.5" font-weight="normal" fill="#4a4a4a" text-anchor="middle" textLength="24.7" lengthAdjust="spacingAndGlyphs" >2025</text>
<rect x="444.3" y="615.3" width="203.5" height="46.7" fill="#9a9a9a" opacity="0.55" filter="url(#blur)"/>
<rect x="441.3" y="612.3" width="203.5" height="46.7" fill="#8b1a1e" />
<text x="543.0" y="630.5" font-size="16" font-weight="bold" fill="#fff" text-anchor="middle" textLength="197.0" lengthAdjust="spacingAndGlyphs" >Sales Value of Retail Trade</text>
<text x="543.0" y="652.5" font-size="16" font-weight="bold" fill="#fff" text-anchor="middle" textLength="88.0" lengthAdjust="spacingAndGlyphs" >(RM billion)</text>
<rect x="383.9" y="778.2" width="18.2" height="63.2" fill="#d0cfd0" />
<rect x="408.5" y="780.3" width="18.2" height="61.1" fill="#d0cfd0" />
<rect x="433.1" y="759.8" width="18.2" height="81.6" fill="#d0cfd0" />
<rect x="457.7" y="753.6" width="18.2" height="87.8" fill="#d0cfd0" />
<rect x="482.3" y="774.1" width="18.2" height="67.3" fill="#d0cfd0" />
<rect x="506.9" y="735.2" width="18.2" height="106.2" fill="#d0cfd0" />
<rect x="531.5" y="739.3" width="18.2" height="102.1" fill="#d0cfd0" />
<rect x="556.1" y="733.1" width="18.2" height="108.3" fill="#d0cfd0" />
<rect x="580.7" y="724.9" width="18.2" height="116.5" fill="#d0cfd0" />
<rect x="605.3" y="735.2" width="18.2" height="106.2" fill="#d0cfd0" />
<rect x="629.9" y="729.0" width="18.2" height="112.4" fill="#d0cfd0" />
<rect x="654.5" y="696.2" width="18.2" height="145.2" fill="#d0cfd0" />
<rect x="679.1" y="688.0" width="18.2" height="153.4" fill="#d0cfd0" />
<line x1="380" y1="841.6" x2="700.5" y2="841.6" stroke="#d9d9d9" stroke-width="1.2"/>
<line x1="380.5" y1="841.5" x2="380.5" y2="845.5" stroke="#d9d9d9" stroke-width="1"/>
<line x1="405.2" y1="841.5" x2="405.2" y2="845.5" stroke="#d9d9d9" stroke-width="1"/>
<line x1="429.8" y1="841.5" x2="429.8" y2="845.5" stroke="#d9d9d9" stroke-width="1"/>
<line x1="454.5" y1="841.5" x2="454.5" y2="845.5" stroke="#d9d9d9" stroke-width="1"/>
<line x1="479.1" y1="841.5" x2="479.1" y2="845.5" stroke="#d9d9d9" stroke-width="1"/>
<line x1="503.8" y1="841.5" x2="503.8" y2="845.5" stroke="#d9d9d9" stroke-width="1"/>
<line x1="528.4" y1="841.5" x2="528.4" y2="845.5" stroke="#d9d9d9" stroke-width="1"/>
<line x1="553.1" y1="841.5" x2="553.1" y2="845.5" stroke="#d9d9d9" stroke-width="1"/>
<line x1="577.7" y1="841.5" x2="577.7" y2="845.5" stroke="#d9d9d9" stroke-width="1"/>
<line x1="602.4" y1="841.5" x2="602.4" y2="845.5" stroke="#d9d9d9" stroke-width="1"/>
<line x1="627.0" y1="841.5" x2="627.0" y2="845.5" stroke="#d9d9d9" stroke-width="1"/>
<line x1="651.7" y1="841.5" x2="651.7" y2="845.5" stroke="#d9d9d9" stroke-width="1"/>
<line x1="676.3" y1="841.5" x2="676.3" y2="845.5" stroke="#d9d9d9" stroke-width="1"/>
<line x1="701.0" y1="841.5" x2="701.0" y2="845.5" stroke="#d9d9d9" stroke-width="1"/>
<path d="M393.3 718.3 L417.6 740.0 L442.6 747.4 L467.2 699.2 L491.5 742.6 L516.5 727.4 L541.1 759.4 L565.1 756.5 L589.7 747.4 L614.3 744.2 L639.0 754.2 L663.3 720.2 L688.5 723.1" fill="none" stroke="#861a1f" stroke-width="2.6" stroke-linejoin="round"/>
<circle cx="393.3" cy="718.3" r="3.4" fill="#ffee00" stroke="#222" stroke-width="1.0"/>
<circle cx="417.6" cy="740.0" r="3.4" fill="#ffee00" stroke="#222" stroke-width="1.0"/>
<circle cx="442.6" cy="747.4" r="3.4" fill="#ffee00" stroke="#222" stroke-width="1.0"/>
<circle cx="467.2" cy="699.2" r="3.4" fill="#ffee00" stroke="#222" stroke-width="1.0"/>
<circle cx="491.5" cy="742.6" r="3.4" fill="#ffee00" stroke="#222" stroke-width="1.0"/>
<circle cx="516.5" cy="727.4" r="3.4" fill="#ffee00" stroke="#222" stroke-width="1.0"/>
<circle cx="541.1" cy="759.4" r="3.4" fill="#ffee00" stroke="#222" stroke-width="1.0"/>
<circle cx="565.1" cy="756.5" r="3.4" fill="#ffee00" stroke="#222" stroke-width="1.0"/>
<circle cx="589.7" cy="747.4" r="3.4" fill="#ffee00" stroke="#222" stroke-width="1.0"/>
<circle cx="614.3" cy="744.2" r="3.4" fill="#ffee00" stroke="#222" stroke-width="1.0"/>
<circle cx="639.0" cy="754.2" r="3.4" fill="#ffee00" stroke="#222" stroke-width="1.0"/>
<circle cx="663.3" cy="720.2" r="3.4" fill="#ffee00" stroke="#222" stroke-width="1.0"/>
<circle cx="688.5" cy="723.1" r="3.4" fill="#ffee00" stroke="#222" stroke-width="1.0"/>
<text x="392.7" y="713.9" font-size="10.2" font-weight="bold" fill="#7d1d22" text-anchor="middle" textLength="20.5" lengthAdjust="spacingAndGlyphs" >7.1%</text>
<text x="422.8" y="734.9" font-size="10.2" font-weight="bold" fill="#7d1d22" text-anchor="middle" textLength="20.5" lengthAdjust="spacingAndGlyphs" >5.8%</text>
<text x="442.9" y="758.6" font-size="10.2" font-weight="bold" fill="#7d1d22" text-anchor="middle" textLength="20.5" lengthAdjust="spacingAndGlyphs" >5.4%</text>
<text x="466.6" y="694.4" font-size="10.2" font-weight="bold" fill="#7d1d22" text-anchor="middle" textLength="20.5" lengthAdjust="spacingAndGlyphs" >8.2%</text>
<text x="501.2" y="754.4" font-size="10.2" font-weight="bold" fill="#7d1d22" text-anchor="middle" textLength="20.5" lengthAdjust="spacingAndGlyphs" >5.7%</text>
<text x="515.2" y="721.0" font-size="10.2" font-weight="bold" fill="#7d1d22" text-anchor="middle" textLength="20.5" lengthAdjust="spacingAndGlyphs" >6.6%</text>
<text x="540.8" y="735.3" font-size="10.2" font-weight="bold" fill="#7d1d22" text-anchor="middle" textLength="20.5" lengthAdjust="spacingAndGlyphs" >4.7%</text>
<text x="565.0" y="728.5" font-size="10.2" font-weight="bold" fill="#7d1d22" text-anchor="middle" textLength="20.5" lengthAdjust="spacingAndGlyphs" >4.9%</text>
<text x="590.3" y="721.0" font-size="10.2" font-weight="bold" fill="#7d1d22" text-anchor="middle" textLength="20.5" lengthAdjust="spacingAndGlyphs" >5.4%</text>
<text x="614.3" y="731.1" font-size="10.2" font-weight="bold" fill="#7d1d22" text-anchor="middle" textLength="20.5" lengthAdjust="spacingAndGlyphs" >5.6%</text>
<text x="639.0" y="725.9" font-size="10.2" font-weight="bold" fill="#7d1d22" text-anchor="middle" textLength="20.5" lengthAdjust="spacingAndGlyphs" >5.0%</text>
<text x="663.3" y="689.9" font-size="10.2" font-weight="bold" fill="#7d1d22" text-anchor="middle" textLength="20.5" lengthAdjust="spacingAndGlyphs" >7.0%</text>
<text x="689.2" y="681.5" font-size="10.2" font-weight="bold" fill="#7d1d22" text-anchor="middle" textLength="20.5" lengthAdjust="spacingAndGlyphs" >6.8%</text>
<text x="393.0" y="838.9" font-size="10.2" font-weight="bold" fill="#111" text-anchor="middle" textLength="17.8" lengthAdjust="spacingAndGlyphs" >64.9</text>
<text x="417.6" y="838.9" font-size="10.2" font-weight="bold" fill="#111" text-anchor="middle" textLength="17.8" lengthAdjust="spacingAndGlyphs" >64.8</text>
<text x="442.2" y="838.9" font-size="10.2" font-weight="bold" fill="#111" text-anchor="middle" textLength="17.8" lengthAdjust="spacingAndGlyphs" >65.8</text>
<text x="466.8" y="838.9" font-size="10.2" font-weight="bold" fill="#111" text-anchor="middle" textLength="17.8" lengthAdjust="spacingAndGlyphs" >66.1</text>
<text x="491.4" y="838.9" font-size="10.2" font-weight="bold" fill="#111" text-anchor="middle" textLength="17.8" lengthAdjust="spacingAndGlyphs" >65.1</text>
<text x="516.0" y="838.9" font-size="10.2" font-weight="bold" fill="#111" text-anchor="middle" textLength="17.8" lengthAdjust="spacingAndGlyphs" >67.0</text>
<text x="540.6" y="838.9" font-size="10.2" font-weight="bold" fill="#111" text-anchor="middle" textLength="17.8" lengthAdjust="spacingAndGlyphs" >66.8</text>
<text x="565.2" y="838.9" font-size="10.2" font-weight="bold" fill="#111" text-anchor="middle" textLength="17.8" lengthAdjust="spacingAndGlyphs" >67.1</text>
<text x="589.8" y="838.9" font-size="10.2" font-weight="bold" fill="#111" text-anchor="middle" textLength="17.8" lengthAdjust="spacingAndGlyphs" >67.5</text>
<text x="614.4" y="838.9" font-size="10.2" font-weight="bold" fill="#111" text-anchor="middle" textLength="17.8" lengthAdjust="spacingAndGlyphs" >67.0</text>
<text x="639.0" y="838.9" font-size="10.2" font-weight="bold" fill="#111" text-anchor="middle" textLength="17.8" lengthAdjust="spacingAndGlyphs" >67.3</text>
<text x="663.6" y="838.9" font-size="10.2" font-weight="bold" fill="#111" text-anchor="middle" textLength="17.8" lengthAdjust="spacingAndGlyphs" >68.9</text>
<text x="688.2" y="838.9" font-size="10.2" font-weight="bold" fill="#111" text-anchor="middle" textLength="17.8" lengthAdjust="spacingAndGlyphs" >69.3</text>
<text x="393.0" y="857.9" font-size="9.2" font-weight="normal" fill="#4a4a4a" text-anchor="middle" textLength="16.0" lengthAdjust="spacingAndGlyphs" >Oct</text>
<text x="417.6" y="857.9" font-size="9.2" font-weight="normal" fill="#4a4a4a" text-anchor="middle" textLength="21.0" lengthAdjust="spacingAndGlyphs" >Nov.</text>
<text x="442.2" y="857.9" font-size="9.2" font-weight="normal" fill="#4a4a4a" text-anchor="middle" textLength="19.0" lengthAdjust="spacingAndGlyphs" >Dec.</text>
<text x="466.8" y="857.9" font-size="9.2" font-weight="normal" fill="#4a4a4a" text-anchor="middle" textLength="17.5" lengthAdjust="spacingAndGlyphs" >Jan.</text>
<text x="491.4" y="857.9" font-size="9.2" font-weight="normal" fill="#4a4a4a" text-anchor="middle" textLength="18.5" lengthAdjust="spacingAndGlyphs" >Feb.</text>
<text x="516.0" y="857.9" font-size="9.2" font-weight="normal" fill="#4a4a4a" text-anchor="middle" textLength="20.0" lengthAdjust="spacingAndGlyphs" >Mar.</text>
<text x="540.6" y="857.9" font-size="9.2" font-weight="normal" fill="#4a4a4a" text-anchor="middle" textLength="19.0" lengthAdjust="spacingAndGlyphs" >Apr.</text>
<text x="565.2" y="857.9" font-size="9.2" font-weight="normal" fill="#4a4a4a" text-anchor="middle" textLength="17.0" lengthAdjust="spacingAndGlyphs" >May</text>
<text x="589.8" y="857.9" font-size="9.2" font-weight="normal" fill="#4a4a4a" text-anchor="middle" textLength="22.0" lengthAdjust="spacingAndGlyphs" >June</text>
<text x="614.4" y="857.9" font-size="9.2" font-weight="normal" fill="#4a4a4a" text-anchor="middle" textLength="13.5" lengthAdjust="spacingAndGlyphs" >Jul</text>
<text x="639.0" y="857.9" font-size="9.2" font-weight="normal" fill="#4a4a4a" text-anchor="middle" textLength="20.0" lengthAdjust="spacingAndGlyphs" >Aug.</text>
<text x="663.6" y="857.9" font-size="9.2" font-weight="normal" fill="#4a4a4a" text-anchor="middle" textLength="24.0" lengthAdjust="spacingAndGlyphs" >Sept.</text>
<text x="688.2" y="857.9" font-size="9.2" font-weight="normal" fill="#4a4a4a" text-anchor="middle" textLength="16.0" lengthAdjust="spacingAndGlyphs" >Oct</text>
<text x="418.6" y="880.8" font-size="10.5" font-weight="normal" fill="#4a4a4a" text-anchor="middle" textLength="24.7" lengthAdjust="spacingAndGlyphs" >2024</text>
<text x="578.0" y="880.8" font-size="10.5" font-weight="normal" fill="#4a4a4a" text-anchor="middle" textLength="24.7" lengthAdjust="spacingAndGlyphs" >2025</text>
<rect x="781.3" y="617.0" width="227.8" height="46.6" fill="#9a9a9a" opacity="0.55" filter="url(#blur)"/>
<rect x="778.3" y="614.0" width="227.8" height="46.6" fill="#2c3a7c" />
<text x="892.2" y="632.8" font-size="16" font-weight="bold" fill="#fff" text-anchor="middle" textLength="220.0" lengthAdjust="spacingAndGlyphs" >Sales Value of Motor Vehicles</text>
<text x="892.2" y="654.5" font-size="16" font-weight="bold" fill="#fff" text-anchor="middle" textLength="88.0" lengthAdjust="spacingAndGlyphs" >(RM billion)</text>
<rect x="734.6" y="715.0" width="18.3" height="126.4" fill="#d0cfd0" />
<rect x="759.2" y="719.2" width="18.3" height="122.2" fill="#d0cfd0" />
<rect x="783.8" y="709.2" width="18.3" height="132.2" fill="#d0cfd0" />
<rect x="808.3" y="735.5" width="18.3" height="105.9" fill="#d0cfd0" />
<rect x="832.9" y="724.1" width="18.3" height="117.3" fill="#d0cfd0" />
<rect x="857.5" y="712.8" width="18.3" height="128.6" fill="#d0cfd0" />
<rect x="882.1" y="724.1" width="18.3" height="117.3" fill="#d0cfd0" />
<rect x="906.7" y="714.0" width="18.3" height="127.4" fill="#d0cfd0" />
<rect x="931.2" y="727.3" width="18.3" height="114.1" fill="#d0cfd0" />
<rect x="955.8" y="713.4" width="18.3" height="128.0" fill="#d0cfd0" />
<rect x="980.4" y="711.1" width="18.3" height="130.3" fill="#d0cfd0" />
<rect x="1005.0" y="720.9" width="18.3" height="120.5" fill="#d0cfd0" />
<rect x="1029.6" y="705.3" width="18.3" height="136.1" fill="#d0cfd0" />
<line x1="729.7" y1="841.6" x2="1050.5" y2="841.6" stroke="#d9d9d9" stroke-width="1.2"/>
<line x1="730.2" y1="841.5" x2="730.2" y2="845.5" stroke="#d9d9d9" stroke-width="1"/>
<line x1="754.9" y1="841.5" x2="754.9" y2="845.5" stroke="#d9d9d9" stroke-width="1"/>
<line x1="779.6" y1="841.5" x2="779.6" y2="845.5" stroke="#d9d9d9" stroke-width="1"/>
<line x1="804.2" y1="841.5" x2="804.2" y2="845.5" stroke="#d9d9d9" stroke-width="1"/>
<line x1="828.9" y1="841.5" x2="828.9" y2="845.5" stroke="#d9d9d9" stroke-width="1"/>
<line x1="853.6" y1="841.5" x2="853.6" y2="845.5" stroke="#d9d9d9" stroke-width="1"/>
<line x1="878.3" y1="841.5" x2="878.3" y2="845.5" stroke="#d9d9d9" stroke-width="1"/>
<line x1="902.9" y1="841.5" x2="902.9" y2="845.5" stroke="#d9d9d9" stroke-width="1"/>
<line x1="927.6" y1="841.5" x2="927.6" y2="845.5" stroke="#d9d9d9" stroke-width="1"/>
<line x1="952.3" y1="841.5" x2="952.3" y2="845.5" stroke="#d9d9d9" stroke-width="1"/>
<line x1="977.0" y1="841.5" x2="977.0" y2="845.5" stroke="#d9d9d9" stroke-width="1"/>
<line x1="1001.6" y1="841.5" x2="1001.6" y2="845.5" stroke="#d9d9d9" stroke-width="1"/>
<line x1="1026.3" y1="841.5" x2="1026.3" y2="845.5" stroke="#d9d9d9" stroke-width="1"/>
<line x1="1051.0" y1="841.5" x2="1051.0" y2="845.5" stroke="#d9d9d9" stroke-width="1"/>
<path d="M744.3 733.5 L768.6 739.3 L793.6 713.4 L818.2 789.2 L842.2 739.3 L867.1 735.1 L891.7 736.4 L916.0 739.3 L941.3 743.2 L965.6 738.4 L990.6 727.3 L1014.2 726.1 L1039.2 707.3" fill="none" stroke="#2b3670" stroke-width="2.6" stroke-linejoin="round"/>
<circle cx="744.3" cy="733.5" r="3.4" fill="#ffee00" stroke="#222" stroke-width="1.0"/>
<circle cx="768.6" cy="739.3" r="3.4" fill="#ffee00" stroke="#222" stroke-width="1.0"/>
<circle cx="793.6" cy="713.4" r="3.4" fill="#ffee00" stroke="#222" stroke-width="1.0"/>
<circle cx="818.2" cy="789.2" r="3.4" fill="#ffee00" stroke="#222" stroke-width="1.0"/>
<circle cx="842.2" cy="739.3" r="3.4" fill="#ffee00" stroke="#222" stroke-width="1.0"/>
<circle cx="867.1" cy="735.1" r="3.4" fill="#ffee00" stroke="#222" stroke-width="1.0"/>
<circle cx="891.7" cy="736.4" r="3.4" fill="#ffee00" stroke="#222" stroke-width="1.0"/>
<circle cx="916.0" cy="739.3" r="3.4" fill="#ffee00" stroke="#222" stroke-width="1.0"/>
<circle cx="941.3" cy="743.2" r="3.4" fill="#ffee00" stroke="#222" stroke-width="1.0"/>
<circle cx="965.6" cy="738.4" r="3.4" fill="#ffee00" stroke="#222" stroke-width="1.0"/>
<circle cx="990.6" cy="727.3" r="3.4" fill="#ffee00" stroke="#222" stroke-width="1.0"/>
<circle cx="1014.2" cy="726.1" r="3.4" fill="#ffee00" stroke="#222" stroke-width="1.0"/>
<circle cx="1039.2" cy="707.3" r="3.4" fill="#ffee00" stroke="#222" stroke-width="1.0"/>
<text x="744.3" y="713.2" font-size="10.2" font-weight="bold" fill="#2c3a7c" text-anchor="middle" textLength="20.5" lengthAdjust="spacingAndGlyphs" >2.7%</text>
<text x="768.6" y="717.7" font-size="10.2" font-weight="bold" fill="#2c3a7c" text-anchor="middle" textLength="20.5" lengthAdjust="spacingAndGlyphs" >1.4%</text>
<text x="793.2" y="707.4" font-size="10.2" font-weight="bold" fill="#2c3a7c" text-anchor="middle" textLength="20.5" lengthAdjust="spacingAndGlyphs" >6.9%</text>
<text x="818.2" y="732.0" font-size="10.2" font-weight="bold" fill="#2c3a7c" text-anchor="middle" textLength="24.0" lengthAdjust="spacingAndGlyphs" >-9.1%</text>
<text x="842.5" y="722.3" font-size="10.2" font-weight="bold" fill="#2c3a7c" text-anchor="middle" textLength="20.5" lengthAdjust="spacingAndGlyphs" >1.5%</text>
<text x="867.1" y="711.0" font-size="10.2" font-weight="bold" fill="#2c3a7c" text-anchor="middle" textLength="20.5" lengthAdjust="spacingAndGlyphs" >2.3%</text>
<text x="892.0" y="722.3" font-size="10.2" font-weight="bold" fill="#2c3a7c" text-anchor="middle" textLength="20.5" lengthAdjust="spacingAndGlyphs" >2.1%</text>
<text x="915.7" y="713.2" font-size="10.2" font-weight="bold" fill="#2c3a7c" text-anchor="middle" textLength="20.5" lengthAdjust="spacingAndGlyphs" >1.5%</text>
<text x="940.4" y="725.9" font-size="10.2" font-weight="bold" fill="#2c3a7c" text-anchor="middle" textLength="20.5" lengthAdjust="spacingAndGlyphs" >0.7%</text>
<text x="965.3" y="711.0" font-size="10.2" font-weight="bold" fill="#2c3a7c" text-anchor="middle" textLength="20.5" lengthAdjust="spacingAndGlyphs" >1.6%</text>
<text x="989.6" y="708.4" font-size="10.2" font-weight="bold" fill="#2c3a7c" text-anchor="middle" textLength="20.5" lengthAdjust="spacingAndGlyphs" >4.0%</text>
<text x="1013.9" y="718.1" font-size="10.2" font-weight="bold" fill="#2c3a7c" text-anchor="middle" textLength="20.5" lengthAdjust="spacingAndGlyphs" >4.3%</text>
<text x="1040.2" y="701.9" font-size="10.2" font-weight="bold" fill="#2c3a7c" text-anchor="middle" textLength="20.5" lengthAdjust="spacingAndGlyphs" >8.2%</text>
<text x="743.8" y="838.9" font-size="10.2" font-weight="bold" fill="#111" text-anchor="middle" textLength="17.8" lengthAdjust="spacingAndGlyphs" >18.9</text>
<text x="768.3" y="838.9" font-size="10.2" font-weight="bold" fill="#111" text-anchor="middle" textLength="17.8" lengthAdjust="spacingAndGlyphs" >18.3</text>
<text x="792.9" y="838.9" font-size="10.2" font-weight="bold" fill="#111" text-anchor="middle" textLength="17.8" lengthAdjust="spacingAndGlyphs" >19.9</text>
<text x="817.5" y="838.9" font-size="10.2" font-weight="bold" fill="#111" text-anchor="middle" textLength="17.8" lengthAdjust="spacingAndGlyphs" >16.0</text>
<text x="842.1" y="838.9" font-size="10.2" font-weight="bold" fill="#111" text-anchor="middle" textLength="17.8" lengthAdjust="spacingAndGlyphs" >17.6</text>
<text x="866.6" y="838.9" font-size="10.2" font-weight="bold" fill="#111" text-anchor="middle" textLength="17.8" lengthAdjust="spacingAndGlyphs" >19.2</text>
<text x="891.2" y="838.9" font-size="10.2" font-weight="bold" fill="#111" text-anchor="middle" textLength="17.8" lengthAdjust="spacingAndGlyphs" >17.6</text>
<text x="915.8" y="838.9" font-size="10.2" font-weight="bold" fill="#111" text-anchor="middle" textLength="17.8" lengthAdjust="spacingAndGlyphs" >19.1</text>
<text x="940.4" y="838.9" font-size="10.2" font-weight="bold" fill="#111" text-anchor="middle" textLength="17.8" lengthAdjust="spacingAndGlyphs" >17.1</text>
<text x="965.0" y="838.9" font-size="10.2" font-weight="bold" fill="#111" text-anchor="middle" textLength="17.8" lengthAdjust="spacingAndGlyphs" >19.3</text>
<text x="989.5" y="838.9" font-size="10.2" font-weight="bold" fill="#111" text-anchor="middle" textLength="17.8" lengthAdjust="spacingAndGlyphs" >19.6</text>
<text x="1014.1" y="838.9" font-size="10.2" font-weight="bold" fill="#111" text-anchor="middle" textLength="17.8" lengthAdjust="spacingAndGlyphs" >18.0</text>
<text x="1038.7" y="838.9" font-size="10.2" font-weight="bold" fill="#111" text-anchor="middle" textLength="17.8" lengthAdjust="spacingAndGlyphs" >20.4</text>
<text x="743.8" y="857.9" font-size="9.2" font-weight="normal" fill="#4a4a4a" text-anchor="middle" textLength="16.0" lengthAdjust="spacingAndGlyphs" >Oct</text>
<text x="768.3" y="857.9" font-size="9.2" font-weight="normal" fill="#4a4a4a" text-anchor="middle" textLength="21.0" lengthAdjust="spacingAndGlyphs" >Nov.</text>
<text x="792.9" y="857.9" font-size="9.2" font-weight="normal" fill="#4a4a4a" text-anchor="middle" textLength="19.0" lengthAdjust="spacingAndGlyphs" >Dec.</text>
<text x="817.5" y="857.9" font-size="9.2" font-weight="normal" fill="#4a4a4a" text-anchor="middle" textLength="17.5" lengthAdjust="spacingAndGlyphs" >Jan.</text>
<text x="842.1" y="857.9" font-size="9.2" font-weight="normal" fill="#4a4a4a" text-anchor="middle" textLength="18.5" lengthAdjust="spacingAndGlyphs" >Feb.</text>
<text x="866.6" y="857.9" font-size="9.2" font-weight="normal" fill="#4a4a4a" text-anchor="middle" textLength="20.0" lengthAdjust="spacingAndGlyphs" >Mar.</text>
<text x="891.2" y="857.9" font-size="9.2" font-weight="normal" fill="#4a4a4a" text-anchor="middle" textLength="19.0" lengthAdjust="spacingAndGlyphs" >Apr.</text>
<text x="915.8" y="857.9" font-size="9.2" font-weight="normal" fill="#4a4a4a" text-anchor="middle" textLength="17.0" lengthAdjust="spacingAndGlyphs" >May</text>
<text x="940.4" y="857.9" font-size="9.2" font-weight="normal" fill="#4a4a4a" text-anchor="middle" textLength="22.0" lengthAdjust="spacingAndGlyphs" >June</text>
<text x="965.0" y="857.9" font-size="9.2" font-weight="normal" fill="#4a4a4a" text-anchor="middle" textLength="13.5" lengthAdjust="spacingAndGlyphs" >Jul</text>
<text x="989.5" y="857.9" font-size="9.2" font-weight="normal" fill="#4a4a4a" text-anchor="middle" textLength="20.0" lengthAdjust="spacingAndGlyphs" >Aug.</text>
<text x="1014.1" y="857.9" font-size="9.2" font-weight="normal" fill="#4a4a4a" text-anchor="middle" textLength="24.0" lengthAdjust="spacingAndGlyphs" >Sept.</text>
<text x="1038.7" y="857.9" font-size="9.2" font-weight="normal" fill="#4a4a4a" text-anchor="middle" textLength="16.0" lengthAdjust="spacingAndGlyphs" >Oct</text>
<text x="769.6" y="880.8" font-size="10.5" font-weight="normal" fill="#4a4a4a" text-anchor="middle" textLength="24.7" lengthAdjust="spacingAndGlyphs" >2024</text>
<text x="929.0" y="880.8" font-size="10.5" font-weight="normal" fill="#4a4a4a" text-anchor="middle" textLength="24.7" lengthAdjust="spacingAndGlyphs" >2025</text>
<text x="1046.5" y="912.5" font-size="14" font-weight="bold" fill="#808080" text-anchor="end" textLength="231.5" lengthAdjust="spacingAndGlyphs" >Percentage Change: Year-on-Year</text>
<rect x="0.0" y="920.0" width="1080.0" height="28.5" fill="#fdecd2" />
<text x="541.5" y="941.0" font-size="18" font-weight="bold" fill="#0d0d0d" text-anchor="middle" textLength="265.0" lengthAdjust="spacingAndGlyphs" stroke="#0d0d0d" stroke-width="0.2">MAIN GROUPS (SALES VALUE)</text>
<rect x="10" y="956" width="340" height="232" fill="#fff" stroke="#e6c46a" stroke-width="2"/>
<rect x="370" y="956" width="340" height="232" fill="#fff" stroke="#7a1f26" stroke-width="2"/>
<rect x="730" y="956" width="340" height="232" fill="#fff" stroke="#2a3468" stroke-width="2"/>
<text x="174.3" y="979.3" font-size="17" font-weight="bold" fill="#0d0d0d" text-anchor="middle" textLength="143.3" lengthAdjust="spacingAndGlyphs" >Wholesale Trade</text>
<text x="532.3" y="979.3" font-size="17" font-weight="bold" fill="#0d0d0d" text-anchor="middle" textLength="103.3" lengthAdjust="spacingAndGlyphs" >Retail Trade</text>
<text x="905.8" y="980.0" font-size="17" font-weight="bold" fill="#0d0d0d" text-anchor="middle" textLength="130.3" lengthAdjust="spacingAndGlyphs" >Motor Vehicles</text>
<rect x="18.3" y="1002.3" width="158.4" height="45.4" rx="8" fill="#fbe3bf"/>
<rect x="19.3" y="1066.7" width="158.4" height="45.0" rx="8" fill="#fbe3bf"/>
<rect x="19.3" y="1134.3" width="158.7" height="45.7" rx="8" fill="#fbe3bf"/>
<rect x="378.3" y="1001.7" width="158.4" height="46.0" rx="8" fill="#fde4e4"/>
<rect x="379.3" y="1066.0" width="158.4" height="45.7" rx="8" fill="#fde4e4"/>
<rect x="376.7" y="1116.7" width="160.0" height="68.3" rx="8" fill="#fde4e4"/>
<rect x="738.3" y="1001.7" width="158.4" height="46.0" rx="8" fill="#dfe1f3"/>
<rect x="739.3" y="1066.0" width="158.4" height="45.7" rx="8" fill="#dfe1f3"/>
<rect x="739.3" y="1133.3" width="158.7" height="46.7" rx="8" fill="#dfe1f3"/>
<text x="97.0" y="1022.3" font-size="13.2" font-weight="bold" fill="#111" text-anchor="middle" textLength="107.4" lengthAdjust="spacingAndGlyphs" >Other Specialised</text>
<text x="99.3" y="1037.7" font-size="13.2" font-weight="bold" fill="#111" text-anchor="middle" textLength="63.3" lengthAdjust="spacingAndGlyphs" >Wholesale</text>
<text x="98.3" y="1086.0" font-size="13.2" font-weight="bold" fill="#111" text-anchor="middle" textLength="80.0" lengthAdjust="spacingAndGlyphs" >Wholesale of</text>
<text x="99.2" y="1101.7" font-size="13.2" font-weight="bold" fill="#111" text-anchor="middle" textLength="111.7" lengthAdjust="spacingAndGlyphs" >Household Goods</text>
<text x="97.7" y="1154.0" font-size="13.2" font-weight="bold" fill="#111" text-anchor="middle" textLength="116.7" lengthAdjust="spacingAndGlyphs" >Wholesale of Food,</text>
<text x="98.7" y="1170.0" font-size="13.2" font-weight="bold" fill="#111" text-anchor="middle" textLength="134.0" lengthAdjust="spacingAndGlyphs" >Beverages &amp; Tobacco</text>
<text x="457.3" y="1014.0" font-size="13.2" font-weight="bold" fill="#111" text-anchor="middle" textLength="80.0" lengthAdjust="spacingAndGlyphs" >Retail Sale in</text>
<text x="456.7" y="1030.0" font-size="13.2" font-weight="bold" fill="#111" text-anchor="middle" textLength="98.0" lengthAdjust="spacingAndGlyphs" >Non-specialised</text>
<text x="457.5" y="1045.7" font-size="13.2" font-weight="bold" fill="#111" text-anchor="middle" textLength="38.4" lengthAdjust="spacingAndGlyphs" >Stores</text>
<text x="459.0" y="1078.3" font-size="13.2" font-weight="bold" fill="#111" text-anchor="middle" textLength="120.0" lengthAdjust="spacingAndGlyphs" >Retail Sale of Other</text>
<text x="458.0" y="1094.0" font-size="13.2" font-weight="bold" fill="#111" text-anchor="middle" textLength="127.4" lengthAdjust="spacingAndGlyphs" >Goods in Specialised</text>
<text x="458.3" y="1109.3" font-size="13.2" font-weight="bold" fill="#111" text-anchor="middle" textLength="38.7" lengthAdjust="spacingAndGlyphs" >Stores</text>
<text x="456.3" y="1131.7" font-size="13.2" font-weight="bold" fill="#111" text-anchor="middle" textLength="120.7" lengthAdjust="spacingAndGlyphs" >Retail Sale of Other</text>
<text x="456.7" y="1147.3" font-size="13.2" font-weight="bold" fill="#111" text-anchor="middle" textLength="66.7" lengthAdjust="spacingAndGlyphs" >Household</text>
<text x="457.2" y="1163.3" font-size="13.2" font-weight="bold" fill="#111" text-anchor="middle" textLength="67.7" lengthAdjust="spacingAndGlyphs" >Equipment</text>
<text x="457.2" y="1179.3" font-size="13.2" font-weight="bold" fill="#111" text-anchor="middle" textLength="127.7" lengthAdjust="spacingAndGlyphs" >in Specialised Stores</text>
<text x="817.0" y="1021.7" font-size="13.2" font-weight="bold" fill="#111" text-anchor="middle" textLength="44.0" lengthAdjust="spacingAndGlyphs" >Sale of</text>
<text x="817.8" y="1037.7" font-size="13.2" font-weight="bold" fill="#111" text-anchor="middle" textLength="97.7" lengthAdjust="spacingAndGlyphs" >Motor Vehicles</text>
<text x="819.2" y="1078.3" font-size="13.2" font-weight="bold" fill="#111" text-anchor="middle" textLength="86.3" lengthAdjust="spacingAndGlyphs" >Sale of Motor</text>
<text x="818.8" y="1094.0" font-size="13.2" font-weight="bold" fill="#111" text-anchor="middle" textLength="51.0" lengthAdjust="spacingAndGlyphs" >Vehicles</text>
<text x="819.2" y="1109.3" font-size="13.2" font-weight="bold" fill="#111" text-anchor="middle" textLength="121.7" lengthAdjust="spacingAndGlyphs" >Parts &amp; Accessories</text>
<text x="819.2" y="1146.0" font-size="13.2" font-weight="bold" fill="#111" text-anchor="middle" textLength="95.0" lengthAdjust="spacingAndGlyphs" >Maintenance &amp;</text>
<text x="819.3" y="1162.0" font-size="13.2" font-weight="bold" fill="#111" text-anchor="middle" textLength="40.0" lengthAdjust="spacingAndGlyphs" >Repair</text>
<text x="819.2" y="1177.7" font-size="13.2" font-weight="bold" fill="#111" text-anchor="middle" textLength="111.7" lengthAdjust="spacingAndGlyphs" >of Motor Vehicles</text>
<text x="307.5" y="1034.0" font-size="19.5" font-weight="bold" fill="#f0b452" text-anchor="middle" textLength="48.0" lengthAdjust="spacingAndGlyphs" >4.9%</text>
<text x="307.5" y="1094.0" font-size="19.5" font-weight="bold" fill="#f0b452" text-anchor="middle" textLength="48.0" lengthAdjust="spacingAndGlyphs" >8.4%</text>
<text x="307.5" y="1167.3" font-size="19.5" font-weight="bold" fill="#f0b452" text-anchor="middle" textLength="48.0" lengthAdjust="spacingAndGlyphs" >9.2%</text>
<text x="666.5" y="1034.0" font-size="19.5" font-weight="bold" fill="#7b1c23" text-anchor="middle" textLength="48.0" lengthAdjust="spacingAndGlyphs" >9.1%</text>
<text x="667.5" y="1094.0" font-size="19.5" font-weight="bold" fill="#7b1c23" text-anchor="middle" textLength="48.0" lengthAdjust="spacingAndGlyphs" >5.2%</text>
<text x="667.0" y="1159.3" font-size="19.5" font-weight="bold" fill="#7b1c23" text-anchor="middle" textLength="48.0" lengthAdjust="spacingAndGlyphs" >2.8%</text>
<text x="1026.3" y="1034.0" font-size="19.5" font-weight="bold" fill="#1b2a5e" text-anchor="middle" textLength="48.0" lengthAdjust="spacingAndGlyphs" >9.5%</text>
<text x="1027.5" y="1094.0" font-size="19.5" font-weight="bold" fill="#1b2a5e" text-anchor="middle" textLength="48.0" lengthAdjust="spacingAndGlyphs" >6.2%</text>
<text x="1027.5" y="1167.3" font-size="19.5" font-weight="bold" fill="#1b2a5e" text-anchor="middle" textLength="48.0" lengthAdjust="spacingAndGlyphs" >9.1%</text>
<g>
<rect x="195.0" y="1047.0" width="53.0" height="6.0" fill="#35b6e0" />
<rect x="195.0" y="1045.0" width="53.0" height="2.0" fill="#8ed8f0" />
<rect x="195.0" y="1034.0" width="53.0" height="12.0" fill="#9a3a2a" />
<rect x="195.0" y="1031.0" width="53.0" height="3.5" fill="#3f9a3f" />
<line x1="197" y1="1038" x2="200" y2="1042" stroke="#6a2218" stroke-width="1"/>
<line x1="204" y1="1038" x2="207" y2="1042" stroke="#6a2218" stroke-width="1"/>
<line x1="211" y1="1038" x2="214" y2="1042" stroke="#6a2218" stroke-width="1"/>
<line x1="218" y1="1038" x2="221" y2="1042" stroke="#6a2218" stroke-width="1"/>
<line x1="225" y1="1038" x2="228" y2="1042" stroke="#6a2218" stroke-width="1"/>
<line x1="232" y1="1038" x2="235" y2="1042" stroke="#6a2218" stroke-width="1"/>
<line x1="239" y1="1038" x2="242" y2="1042" stroke="#6a2218" stroke-width="1"/>
<line x1="246" y1="1038" x2="249" y2="1042" stroke="#6a2218" stroke-width="1"/>
<path d="M219 1034 L222 1047 L220 1053 L223 1053 L225 1046 L222 1034 Z" fill="#222"/>
<path d="M214 1031 L220 1003 L224 1003 L230 1031" fill="none" stroke="#e0262c" stroke-width="2"/>
<path d="M216 1024 L228 1024 M217 1016 L227 1016 M218 1010 L226 1010 M216 1024 L227 1016 M228 1024 L217 1016 M217 1016 L226 1010 M227 1016 L218 1010" stroke="#e0262c" stroke-width="1" fill="none"/>
<path d="M198 999 L238 1005" stroke="#e0262c" stroke-width="3"/>
<path d="M195 998 L202 996 L204 1008 L198 1010 Z" fill="#e0262c"/>
<rect x="196.0" y="1008.0" width="2.2" height="24.0" fill="#555" />
<rect x="236.0" y="1004.0" width="2.2" height="18.0" fill="#555" />
<path d="M232 1020 L246 1024 L246 1031 L232 1031 Z" fill="#e0262c"/>
<rect x="233.0" y="1013.0" width="8.0" height="8.0" fill="#e8e8e8" stroke="#999" stroke-width="0.6"/>
</g>
<g>
<path d="M192 1104 L222 1098 L233 1110 L201 1116 Z" fill="#f6c7b4" stroke="#e3a890" stroke-width="0.8"/>
<ellipse cx="202" cy="1106" rx="2.6" ry="1.4" fill="#fbe4d8"/>
<ellipse cx="209" cy="1104" rx="2.6" ry="1.4" fill="#fbe4d8"/>
<ellipse cx="216" cy="1103" rx="2.6" ry="1.4" fill="#fbe4d8"/>
<ellipse cx="207" cy="1111" rx="2.6" ry="1.4" fill="#fbe4d8"/>
<ellipse cx="214" cy="1109" rx="2.6" ry="1.4" fill="#fbe4d8"/>
<ellipse cx="221" cy="1108" rx="2.6" ry="1.4" fill="#fbe4d8"/>
<ellipse cx="216" cy="1120" rx="4" ry="2.5" fill="#8fb2e0"/><ellipse cx="226" cy="1117" rx="4" ry="2.5" fill="#8fb2e0"/>
<rect x="209" y="1062" width="13" height="6" rx="1" fill="#3d4f9a"/>
<path d="M205 1072 Q205 1068 209 1068 H222 Q226 1068 226 1072 V1094 Q226 1096 224 1096 H207 Q205 1096 205 1094 Z" fill="#f4f6fb" stroke="#c5cbe0" stroke-width="0.6"/>
<rect x="205.0" y="1074.0" width="21.0" height="15.0" fill="#6d7ec4" />
<path d="M213.5 1077 h4 v3 h3 v4 h-3 v3 h-4 v-3 h-3 v-4 h3 z" fill="#fff"/>
<rect x="236" y="1073" width="16" height="6" rx="1.5" fill="#f2d8cc" stroke="#d0a898" stroke-width="0.6"/>
<path d="M232 1084 Q232 1079 238 1079 H250 Q256 1079 256 1084 V1110 Q256 1112 254 1112 H234 Q232 1112 232 1110 Z" fill="#e0353b"/>
<rect x="232.0" y="1086.0" width="19.0" height="18.0" fill="#fbe8e6" />
<path d="M238.5 1089 h4 v3 h3 v4 h-3 v3 h-4 v-3 h-3 v-4 h3 z" fill="#e0353b"/>
</g>
<g>
<rect x="187" y="1150" width="15" height="21" rx="2" fill="#3aa24a"/>
<rect x="187.0" y="1156.3" width="15.0" height="8.4" fill="#e8f0d8" />
<ellipse cx="194.5" cy="1151.5" rx="7.5" ry="2" fill="#d9d9d9"/>
<rect x="207" y="1136" width="16" height="24" rx="2" fill="#e8a418"/>
<rect x="207.0" y="1143.2" width="16.0" height="9.6" fill="#f6d23a" />
<ellipse cx="215.0" cy="1137.5" rx="8.0" ry="2" fill="#d9d9d9"/>
<rect x="222" y="1143" width="15" height="17" rx="2" fill="#c7332b"/>
<rect x="222.0" y="1148.1" width="15.0" height="6.8" fill="#f0e0c8" />
<ellipse cx="229.5" cy="1144.5" rx="7.5" ry="2" fill="#d9d9d9"/>
<rect x="233" y="1139" width="9" height="30" rx="2" fill="#7a1f1f"/>
<rect x="233.0" y="1148.0" width="9.0" height="12.0" fill="#e6d0b8" />
<ellipse cx="237.5" cy="1140.5" rx="4.5" ry="2" fill="#d9d9d9"/>
<rect x="200" y="1155" width="18" height="21" rx="2" fill="#d92c2c"/>
<rect x="200.0" y="1161.3" width="18.0" height="8.4" fill="#f3c23a" />
<ellipse cx="209.0" cy="1156.5" rx="9.0" ry="2" fill="#d9d9d9"/>
<rect x="218" y="1156" width="18" height="20" rx="2" fill="#2f7a3a"/>
<rect x="218.0" y="1162.0" width="18.0" height="8.0" fill="#f4e13a" />
<ellipse cx="227.0" cy="1157.5" rx="9.0" ry="2" fill="#d9d9d9"/>
<rect x="244" y="1136" width="23" height="41" rx="3" fill="#e12f33"/>
<ellipse cx="255.5" cy="1137.5" rx="11.5" ry="2.5" fill="#c9c9c9"/>
<ellipse cx="256" cy="1158" rx="7" ry="5" fill="#fff"/>
<text x="256" y="1160" font-size="4" text-anchor="middle" fill="#c12">SODA</text>
</g>
<g>
<path d="M558 1021 H621.6 V1045.6 H554 Z" fill="#ef6a5a"/>
<path d="M554 1045.6 L559 1033 V1045.6 Z" fill="#1f5a6a"/>
<rect x="570.3" y="1000.0" width="5.1" height="40.0" fill="#f4c233" />
<rect x="579.0" y="995.0" width="5.0" height="45.0" fill="#f4c233" />
<rect x="562.3" y="1007.0" width="46.3" height="10.5" fill="#1f4f62" stroke="#ef6a5a" stroke-width="1.2"/>
<text x="585.5" y="1014.7" font-size="6" font-weight="bold" text-anchor="middle" fill="#f3d54a" textLength="38" lengthAdjust="spacingAndGlyphs">MINI MARKET</text>
<rect x="587.0" y="1023.0" width="6.6" height="13.0" fill="#f4c233" />
<rect x="588.2" y="1024.2" width="4.2" height="10.6" fill="#3aa0d8" />
<rect x="594.8" y="1023.0" width="6.6" height="13.0" fill="#f4c233" />
<rect x="596.0" y="1024.2" width="4.2" height="10.6" fill="#3aa0d8" />
<rect x="602.6" y="1023.0" width="6.6" height="13.0" fill="#f4c233" />
<rect x="603.8" y="1024.2" width="4.2" height="10.6" fill="#3aa0d8" />
<rect x="610.4" y="1023.0" width="6.6" height="13.0" fill="#f4c233" />
<rect x="611.6" y="1024.2" width="4.2" height="10.6" fill="#3aa0d8" />
<rect x="568.0" y="1038.0" width="44.0" height="2.5" fill="#f4c233" />
<rect x="568.0" y="1042.0" width="40.0" height="2.2" fill="#f4c233" />
<path d="M594 1045 C593 1039 596 1035 598 1038 C600 1035 603 1039 602 1045 Z" fill="#5aa84a"/>
<rect x="552.0" y="1045.2" width="70.0" height="1.6" fill="#2a3a5a" />
</g>
<g>
<line x1="550" y1="1066" x2="623" y2="1066" stroke="#8a8aa8" stroke-width="1.6"/>
<path d="M551 1070 L555.5 1068 L560 1070 L560 1107 L551 1107 Z" fill="#e56a2a" stroke="#00000022" stroke-width="0.5"/>
<path d="M559 1070 L562.0 1068 L565 1070 L565 1110 L559 1110 Z" fill="#1a1a1a" stroke="#00000022" stroke-width="0.5"/>
<path d="M564 1070 L569.0 1068 L574 1070 L574 1112 L564 1112 Z" fill="#e3c92a" stroke="#00000022" stroke-width="0.5"/>
<path d="M571 1070 L575.0 1068 L579 1070 L579 1108 L571 1108 Z" fill="#2a7a6a" stroke="#00000022" stroke-width="0.5"/>
<path d="M578 1070 L582.0 1068 L586 1070 L586 1100 L578 1100 Z" fill="#f2f2f2" stroke="#00000022" stroke-width="0.5"/>
<path d="M584 1070 L588.5 1068 L593 1070 L593 1096 L584 1096 Z" fill="#a8c8e8" stroke="#00000022" stroke-width="0.5"/>
<path d="M591 1070 L596.0 1068 L601 1070 L601 1100 L591 1100 Z" fill="#f4f0e8" stroke="#00000022" stroke-width="0.5"/>
<path d="M598 1070 L603.0 1068 L608 1070 L608 1103 L598 1103 Z" fill="#222" stroke="#00000022" stroke-width="0.5"/>
<path d="M606 1070 L614.5 1068 L623 1070 L623 1098 L606 1098 Z" fill="#d8cfc6" stroke="#00000022" stroke-width="0.5"/>
<path d="M553.0 1070 l2 -4" stroke="#777" stroke-width="0.8"/>
<path d="M560.5 1070 l2 -4" stroke="#777" stroke-width="0.8"/>
<path d="M568.0 1070 l2 -4" stroke="#777" stroke-width="0.8"/>
<path d="M575.5 1070 l2 -4" stroke="#777" stroke-width="0.8"/>
<path d="M583.0 1070 l2 -4" stroke="#777" stroke-width="0.8"/>
<path d="M590.5 1070 l2 -4" stroke="#777" stroke-width="0.8"/>
<path d="M598.0 1070 l2 -4" stroke="#777" stroke-width="0.8"/>
<path d="M605.5 1070 l2 -4" stroke="#777" stroke-width="0.8"/>
<path d="M613.0 1070 l2 -4" stroke="#777" stroke-width="0.8"/>
<path d="M620.5 1070 l2 -4" stroke="#777" stroke-width="0.8"/>
</g>
<g>
<rect x="585.0" y="1122.0" width="18.0" height="56.0" fill="#e9e9ee" stroke="#c9c9d0" stroke-width="0.6"/>
<rect x="556.0" y="1128.0" width="29.0" height="22.0" fill="#1b1b1b" />
<rect x="557.0" y="1129.0" width="27.0" height="16.0" fill="#2e2e2e" />
<rect x="556.0" y="1150.0" width="25.0" height="28.0" fill="#f4f4f4" stroke="#c8c8c8" stroke-width="0.6"/>
<circle cx="568.5" cy="1165" r="7" fill="#dfe4ea" stroke="#9aa4b0" stroke-width="1.6"/>
<rect x="574.0" y="1145.0" width="9.0" height="6.0" fill="#cfcfcf" />
<path d="M590 1176 C586 1165 586 1150 595 1146 C602 1143 604 1152 602 1160" fill="none" stroke="#444" stroke-width="1.6"/>
<rect x="603.0" y="1152.0" width="17.0" height="26.0" fill="#f2f2f2" stroke="#bdbdbd" stroke-width="0.6"/>
<rect x="605.0" y="1160.0" width="13.0" height="8.0" fill="#555" />
<rect x="586.0" y="1170.0" width="9.0" height="8.0" fill="#cfd3d8" />
</g>
<g>
<path d="M913 1031 C913 1025 916 1021 922 1019 L931 1010.5 C941 1007.5 958 1007.5 968 1010 L975 1018 C978 1022 978.5 1030 977.5 1038 L913 1039 Z" fill="#c81a20"/>
<path d="M927 1018 L934 1010.5 C944 1009 955 1009 961 1010.5 L963 1018.5 Z" fill="#4a4d56"/>
<path d="M938 1017 L943 1011 M948 1017 L952 1011" stroke="#8a8d96" stroke-width="1.2"/>
<path d="M964 1011 L970 1012 L974 1019 L965 1019 Z" fill="#5a5d66"/>
<ellipse cx="918.5" cy="1025" rx="4" ry="1.8" fill="#3a4a8a"/><ellipse cx="954" cy="1025" rx="5" ry="1.8" fill="#3a4a8a"/>
<rect x="923.0" y="1026.5" width="25.0" height="2.0" fill="#8a1010" />
<rect x="926.0" y="1030.0" width="11.0" height="3.8" fill="#f4f4f4" />
<ellipse cx="919" cy="1039" rx="5.5" ry="4.5" fill="#1e1e1e"/><ellipse cx="957.5" cy="1037" rx="5.5" ry="6.3" fill="#1e1e1e"/><ellipse cx="957.5" cy="1037" rx="3" ry="4" fill="#9a9a9a"/><ellipse cx="974.5" cy="1037" rx="3.5" ry="5.8" fill="#1e1e1e"/>
</g>
<g>
<polygon points="954.7,1067.3 954.7,1071.5 952.1,1071.3 950.9,1074.3 952.8,1076.0 949.9,1078.9 948.2,1077.0 945.2,1078.2 945.4,1080.8 941.2,1080.8 941.4,1078.2 938.4,1077.0 936.7,1078.9 933.8,1076.0 935.7,1074.3 934.5,1071.3 931.9,1071.5 931.9,1067.3 934.5,1067.5 935.7,1064.5 933.8,1062.8 936.7,1059.9 938.4,1061.8 941.4,1060.6 941.2,1058.0 945.4,1058.0 945.2,1060.6 948.2,1061.8 949.9,1059.9 952.8,1062.8 950.9,1064.5 952.1,1067.5" fill="#666"/><circle cx="943.3" cy="1069.4" r="4.6" fill="#fff"/>
<polygon points="933.3,1075.4 933.3,1077.6 931.9,1077.6 931.2,1079.2 932.3,1080.1 930.6,1081.8 929.7,1080.7 928.1,1081.4 928.1,1082.8 925.9,1082.8 925.9,1081.4 924.3,1080.7 923.4,1081.8 921.7,1080.1 922.8,1079.2 922.1,1077.6 920.7,1077.6 920.7,1075.4 922.1,1075.4 922.8,1073.8 921.7,1072.9 923.4,1071.2 924.3,1072.3 925.9,1071.6 925.9,1070.2 928.1,1070.2 928.1,1071.6 929.7,1072.3 930.6,1071.2 932.3,1072.9 931.2,1073.8 931.9,1075.4" fill="#666"/><circle cx="927" cy="1076.5" r="2.6" fill="#fff"/>
<polygon points="962.9,1080.0 962.9,1082.0 961.7,1081.9 961.1,1083.3 962.0,1084.1 960.6,1085.5 959.8,1084.6 958.4,1085.2 958.5,1086.4 956.5,1086.4 956.6,1085.2 955.2,1084.6 954.4,1085.5 953.0,1084.1 953.9,1083.3 953.3,1081.9 952.1,1082.0 952.1,1080.0 953.3,1080.1 953.9,1078.7 953.0,1077.9 954.4,1076.5 955.2,1077.4 956.6,1076.8 956.5,1075.6 958.5,1075.6 958.4,1076.8 959.8,1077.4 960.6,1076.5 962.0,1077.9 961.1,1078.7 961.7,1080.1" fill="#666"/><circle cx="957.5" cy="1081" r="2.2" fill="#fff"/>
<path d="M962 1081 H972 V1085" fill="none" stroke="#777" stroke-width="0.8"/>
<path d="M924 1098 L929 1087 C931 1083 934 1082 939 1082 H952 C957 1082 960 1084 962 1088 L965 1097 V1106 H924 Z" fill="#d9262c" stroke="#555" stroke-width="0.6"/>
<path d="M931 1094 L934 1086 H943 V1094 Z M945 1094 V1086 H954 L957 1094 Z" fill="#4cc0d8"/>
<circle cx="954" cy="1106" r="4.5" fill="#444"/>
<rect x="916.6" y="1095.0" width="21.0" height="16.4" fill="#555" />
<rect x="916.6" y="1093.3" width="21.0" height="3.0" fill="#999" />
<path d="M928.5 1098 L923.5 1105 H927 L925 1110 L931 1102.5 H927.5 Z" fill="#f6c52a"/>
<rect x="954" y="1087" width="9" height="11" rx="1.5" fill="#555"/><rect x="957" y="1097" width="3.2" height="14" fill="#777"/>
<rect x="965.7" y="1084.6" width="16" height="26.8" rx="4" fill="#a8d4f0" stroke="#3a6aa8" stroke-width="1"/>
<rect x="968.0" y="1088.0" width="11.0" height="9.5" fill="#8a94d0" />
<rect x="968.0" y="1099.0" width="11.0" height="9.5" fill="#8a94d0" />
<circle cx="973.5" cy="1092.5" r="2.2" fill="#f2d020"/><circle cx="973.5" cy="1103.7" r="2.2" fill="#f2d020"/>
</g>
<g>
<path d="M913 1140 C913 1135 916 1132 922 1131 L931 1126 C940 1123.5 956 1123.5 962 1126 L969 1132 C974 1134 976 1138 975.5 1144 L974 1147 H914 Z" fill="#ef5a2a"/>
<path d="M931 1131 L936 1127 C944 1125.5 954 1125.5 958 1127 L963 1132 Z" fill="#8fc8e0"/>
<rect x="955.0" y="1138.0" width="18.0" height="4.0" fill="#333" />
<circle cx="921" cy="1145" r="5.5" fill="#333"/><circle cx="921" cy="1145" r="3.2" fill="#aac8e0"/><circle cx="950" cy="1145" r="5.5" fill="#333"/><circle cx="950" cy="1145" r="3.2" fill="#aac8e0"/>
<rect x="928.0" y="1124.4" width="6.6" height="62.0" fill="#f2a22a" />
<rect x="954.9" y="1124.4" width="7.9" height="62.0" fill="#f2a22a" />
<rect x="928.0" y="1124.4" width="2.0" height="62.0" fill="#f7c65a" />
<rect x="955.0" y="1124.4" width="2.0" height="62.0" fill="#f7c65a" />
<rect x="927.0" y="1160.0" width="5.0" height="8.0" fill="#e8e8e8" />
<circle cx="974" cy="1153.5" r="2.6" fill="#2a2a4a"/><circle cx="973" cy="1155" r="2.2" fill="#f0c8a0"/>
<path d="M967 1150 L969 1160 H974.5 L975.5 1185.5 H972 L971 1172 L969.5 1185.5 H966 L967.5 1160 Z" fill="#3a5ea8"/>
<path d="M968 1160 L965.5 1150 M974 1160 L976 1151" stroke="#3a5ea8" stroke-width="1.6"/>
</g>
<path d="M0 1213.5 L120 1213.5 C272.5 1222 431.5 1255.4 555 1350 L0 1350 Z" fill="#9a1b1f"/>
<path d="M0 1215 L135 1215 C275.6 1229 421.8 1261 535 1350 L0 1350 Z" fill="#f2b530"/>
<path d="M0 1240 L290 1244 C371.2 1263.6 448.5 1299.7 515 1350 L0 1350 Z" fill="#2e3a85"/>
<path d="M0 1213.5 L110 1213.5 C246.7 1224.8 385.5 1259.2 492 1350 L0 1350 Z" fill="#14899c"/>
<rect x="13.8" y="1248.8" width="78.0" height="79.0" fill="#fff" />
<g fill="#111"><rect x="13.80" y="1248.80" width="2.99" height="2.99"/><rect x="16.49" y="1248.80" width="2.99" height="2.99"/><rect x="19.18" y="1248.80" width="2.99" height="2.99"/><rect x="21.87" y="1248.80" width="2.99" height="2.99"/><rect x="24.56" y="1248.80" width="2.99" height="2.99"/><rect x="27.25" y="1248.80" width="2.99" height="2.99"/><rect x="29.94" y="1248.80" width="2.99" height="2.99"/><rect x="35.32" y="1248.80" width="2.99" height="2.99"/><rect x="38.01" y="1248.80" width="2.99" height="2.99"/><rect x="40.70" y="1248.80" width="2.99" height="2.99"/><rect x="43.39" y="1248.80" width="2.99" height="2.99"/><rect x="46.08" y="1248.80" width="2.99" height="2.99"/><rect x="51.46" y="1248.80" width="2.99" height="2.99"/><rect x="54.14" y="1248.80" width="2.99" height="2.99"/><rect x="64.90" y="1248.80" width="2.99" height="2.99"/><rect x="72.97" y="1248.80" width="2.99" height="2.99"/><rect x="75.66" y="1248.80" width="2.99" height="2.99"/><rect x="78.35" y="1248.80" width="2.99" height="2.99"/><rect x="81.04" y="1248.80" width="2.99" height="2.99"/><rect x="83.73" y="1248.80" width="2.99" height="2.99"/><rect x="86.42" y="1248.80" width="2.99" height="2.99"/><rect x="89.11" y="1248.80" width="2.99" height="2.99"/><rect x="13.80" y="1251.49" width="2.99" height="2.99"/><rect x="29.94" y="1251.49" width="2.99" height="2.99"/><rect x="35.32" y="1251.49" width="2.99" height="2.99"/><rect x="38.01" y="1251.49" width="2.99" height="2.99"/><rect x="43.39" y="1251.49" width="2.99" height="2.99"/><rect x="46.08" y="1251.49" width="2.99" height="2.99"/><rect x="54.14" y="1251.49" width="2.99" height="2.99"/><rect x="67.59" y="1251.49" width="2.99" height="2.99"/><rect x="72.97" y="1251.49" width="2.99" height="2.99"/><rect x="89.11" y="1251.49" width="2.99" height="2.99"/><rect x="13.80" y="1254.18" width="2.99" height="2.99"/><rect x="19.18" y="1254.18" width="2.99" height="2.99"/><rect x="21.87" y="1254.18" width="2.99" height="2.99"/><rect x="24.56" y="1254.18" width="2.99" height="2.99"/><rect x="29.94" y="1254.18" width="2.99" height="2.99"/><rect x="40.70" y="1254.18" width="2.99" height="2.99"/><rect x="46.08" y="1254.18" width="2.99" height="2.99"/><rect x="59.52" y="1254.18" width="2.99" height="2.99"/><rect x="62.21" y="1254.18" width="2.99" height="2.99"/><rect x="67.59" y="1254.18" width="2.99" height="2.99"/><rect x="72.97" y="1254.18" width="2.99" height="2.99"/><rect x="78.35" y="1254.18" width="2.99" height="2.99"/><rect x="81.04" y="1254.18" width="2.99" height="2.99"/><rect x="83.73" y="1254.18" width="2.99" height="2.99"/><rect x="89.11" y="1254.18" width="2.99" height="2.99"/><rect x="13.80" y="1256.87" width="2.99" height="2.99"/><rect x="19.18" y="1256.87" width="2.99" height="2.99"/><rect x="21.87" y="1256.87" width="2.99" height="2.99"/><rect x="24.56" y="1256.87" width="2.99" height="2.99"/><rect x="29.94" y="1256.87" width="2.99" height="2.99"/><rect x="35.32" y="1256.87" width="2.99" height="2.99"/><rect x="38.01" y="1256.87" width="2.99" height="2.99"/><rect x="46.08" y="1256.87" width="2.99" height="2.99"/><rect x="48.77" y="1256.87" width="2.99" height="2.99"/><rect x="51.46" y="1256.87" width="2.99" height="2.99"/><rect x="54.14" y="1256.87" width="2.99" height="2.99"/><rect x="56.83" y="1256.87" width="2.99" height="2.99"/><rect x="62.21" y="1256.87" width="2.99" height="2.99"/><rect x="64.90" y="1256.87" width="2.99" height="2.99"/><rect x="67.59" y="1256.87" width="2.99" height="2.99"/><rect x="72.97" y="1256.87" width="2.99" height="2.99"/><rect x="78.35" y="1256.87" width="2.99" height="2.99"/><rect x="81.04" y="1256.87" width="2.99" height="2.99"/><rect x="83.73" y="1256.87" width="2.99" height="2.99"/><rect x="89.11" y="1256.87" width="2.99" height="2.99"/><rect x="13.80" y="1259.56" width="2.99" height="2.99"/><rect x="19.18" y="1259.56" width="2.99" height="2.99"/><rect x="21.87" y="1259.56" width="2.99" height="2.99"/><rect x="24.56" y="1259.56" width="2.99" height="2.99"/><rect x="29.94" y="1259.56" width="2.99" height="2.99"/><rect x="35.32" y="1259.56" width="2.99" height="2.99"/><rect x="38.01" y="1259.56" width="2.99" height="2.99"/><rect x="40.70" y="1259.56" width="2.99" height="2.99"/><rect x="43.39" y="1259.56" width="2.99" height="2.99"/><rect x="46.08" y="1259.56" width="2.99" height="2.99"/><rect x="48.77" y="1259.56" width="2.99" height="2.99"/><rect x="51.46" y="1259.56" width="2.99" height="2.99"/><rect x="54.14" y="1259.56" width="2.99" height="2.99"/><rect x="56.83" y="1259.56" width="2.99" height="2.99"/><rect x="59.52" y="1259.56" width="2.99" height="2.99"/><rect x="62.21" y="1259.56" width="2.99" height="2.99"/><rect x="72.97" y="1259.56" width="2.99" height="2.99"/><rect x="78.35" y="1259.56" width="2.99" height="2.99"/><rect x="81.04" y="1259.56" width="2.99" height="2.99"/><rect x="83.73" y="1259.56" width="2.99" height="2.99"/><rect x="89.11" y="1259.56" width="2.99" height="2.99"/><rect x="13.80" y="1262.25" width="2.99" height="2.99"/><rect x="29.94" y="1262.25" width="2.99" height="2.99"/><rect x="40.70" y="1262.25" width="2.99" height="2.99"/><rect x="46.08" y="1262.25" width="2.99" height="2.99"/><rect x="59.52" y="1262.25" width="2.99" height="2.99"/><rect x="62.21" y="1262.25" width="2.99" height="2.99"/><rect x="64.90" y="1262.25" width="2.99" height="2.99"/><rect x="72.97" y="1262.25" width="2.99" height="2.99"/><rect x="89.11" y="1262.25" width="2.99" height="2.99"/><rect x="13.80" y="1264.94" width="2.99" height="2.99"/><rect x="16.49" y="1264.94" width="2.99" height="2.99"/><rect x="19.18" y="1264.94" width="2.99" height="2.99"/><rect x="21.87" y="1264.94" width="2.99" height="2.99"/><rect x="24.56" y="1264.94" width="2.99" height="2.99"/><rect x="27.25" y="1264.94" width="2.99" height="2.99"/><rect x="29.94" y="1264.94" width="2.99" height="2.99"/><rect x="35.32" y="1264.94" width="2.99" height="2.99"/><rect x="40.70" y="1264.94" width="2.99" height="2.99"/><rect x="46.08" y="1264.94" width="2.99" height="2.99"/><rect x="51.46" y="1264.94" width="2.99" height="2.99"/><rect x="56.83" y="1264.94" width="2.99" height="2.99"/><rect x="62.21" y="1264.94" width="2.99" height="2.99"/><rect x="67.59" y="1264.94" width="2.99" height="2.99"/><rect x="72.97" y="1264.94" width="2.99" height="2.99"/><rect x="75.66" y="1264.94" width="2.99" height="2.99"/><rect x="78.35" y="1264.94" width="2.99" height="2.99"/><rect x="81.04" y="1264.94" width="2.99" height="2.99"/><rect x="83.73" y="1264.94" width="2.99" height="2.99"/><rect x="86.42" y="1264.94" width="2.99" height="2.99"/><rect x="89.11" y="1264.94" width="2.99" height="2.99"/><rect x="35.32" y="1267.63" width="2.99" height="2.99"/><rect x="38.01" y="1267.63" width="2.99" height="2.99"/><rect x="46.08" y="1267.63" width="2.99" height="2.99"/><rect x="48.77" y="1267.63" width="2.99" height="2.99"/><rect x="51.46" y="1267.63" width="2.99" height="2.99"/><rect x="59.52" y="1267.63" width="2.99" height="2.99"/><rect x="13.80" y="1270.32" width="2.99" height="2.99"/><rect x="21.87" y="1270.32" width="2.99" height="2.99"/><rect x="24.56" y="1270.32" width="2.99" height="2.99"/><rect x="27.25" y="1270.32" width="2.99" height="2.99"/><rect x="29.94" y="1270.32" width="2.99" height="2.99"/><rect x="35.32" y="1270.32" width="2.99" height="2.99"/><rect x="38.01" y="1270.32" width="2.99" height="2.99"/><rect x="40.70" y="1270.32" width="2.99" height="2.99"/><rect x="46.08" y="1270.32" width="2.99" height="2.99"/><rect x="48.77" y="1270.32" width="2.99" height="2.99"/><rect x="56.83" y="1270.32" width="2.99" height="2.99"/><rect x="70.28" y="1270.32" width="2.99" height="2.99"/><rect x="72.97" y="1270.32" width="2.99" height="2.99"/><rect x="75.66" y="1270.32" width="2.99" height="2.99"/><rect x="78.35" y="1270.32" width="2.99" height="2.99"/><rect x="83.73" y="1270.32" width="2.99" height="2.99"/><rect x="86.42" y="1270.32" width="2.99" height="2.99"/><rect x="16.49" y="1273.01" width="2.99" height="2.99"/><rect x="27.25" y="1273.01" width="2.99" height="2.99"/><rect x="32.63" y="1273.01" width="2.99" height="2.99"/><rect x="35.32" y="1273.01" width="2.99" height="2.99"/><rect x="51.46" y="1273.01" width="2.99" height="2.99"/><rect x="64.90" y="1273.01" width="2.99" height="2.99"/><rect x="70.28" y="1273.01" width="2.99" height="2.99"/><rect x="83.73" y="1273.01" width="2.99" height="2.99"/><rect x="16.49" y="1275.70" width="2.99" height="2.99"/><rect x="19.18" y="1275.70" width="2.99" height="2.99"/><rect x="21.87" y="1275.70" width="2.99" height="2.99"/><rect x="24.56" y="1275.70" width="2.99" height="2.99"/><rect x="27.25" y="1275.70" width="2.99" height="2.99"/><rect x="29.94" y="1275.70" width="2.99" height="2.99"/><rect x="64.90" y="1275.70" width="2.99" height="2.99"/><rect x="72.97" y="1275.70" width="2.99" height="2.99"/><rect x="75.66" y="1275.70" width="2.99" height="2.99"/><rect x="81.04" y="1275.70" width="2.99" height="2.99"/><rect x="83.73" y="1275.70" width="2.99" height="2.99"/><rect x="86.42" y="1275.70" width="2.99" height="2.99"/><rect x="13.80" y="1278.39" width="2.99" height="2.99"/><rect x="19.18" y="1278.39" width="2.99" height="2.99"/><rect x="21.87" y="1278.39" width="2.99" height="2.99"/><rect x="24.56" y="1278.39" width="2.99" height="2.99"/><rect x="32.63" y="1278.39" width="2.99" height="2.99"/><rect x="67.59" y="1278.39" width="2.99" height="2.99"/><rect x="70.28" y="1278.39" width="2.99" height="2.99"/><rect x="81.04" y="1278.39" width="2.99" height="2.99"/><rect x="83.73" y="1278.39" width="2.99" height="2.99"/><rect x="89.11" y="1278.39" width="2.99" height="2.99"/><rect x="13.80" y="1281.08" width="2.99" height="2.99"/><rect x="24.56" y="1281.08" width="2.99" height="2.99"/><rect x="29.94" y="1281.08" width="2.99" height="2.99"/><rect x="35.32" y="1281.08" width="2.99" height="2.99"/><rect x="38.01" y="1281.08" width="2.99" height="2.99"/><rect x="64.90" y="1281.08" width="2.99" height="2.99"/><rect x="67.59" y="1281.08" width="2.99" height="2.99"/><rect x="70.28" y="1281.08" width="2.99" height="2.99"/><rect x="75.66" y="1281.08" width="2.99" height="2.99"/><rect x="81.04" y="1281.08" width="2.99" height="2.99"/><rect x="83.73" y="1281.08" width="2.99" height="2.99"/><rect x="86.42" y="1281.08" width="2.99" height="2.99"/><rect x="89.11" y="1281.08" width="2.99" height="2.99"/><rect x="13.80" y="1283.77" width="2.99" height="2.99"/><rect x="21.87" y="1283.77" width="2.99" height="2.99"/><rect x="24.56" y="1283.77" width="2.99" height="2.99"/><rect x="35.32" y="1283.77" width="2.99" height="2.99"/><rect x="38.01" y="1283.77" width="2.99" height="2.99"/><rect x="64.90" y="1283.77" width="2.99" height="2.99"/><rect x="67.59" y="1283.77" width="2.99" height="2.99"/><rect x="70.28" y="1283.77" width="2.99" height="2.99"/><rect x="72.97" y="1283.77" width="2.99" height="2.99"/><rect x="75.66" y="1283.77" width="2.99" height="2.99"/><rect x="81.04" y="1283.77" width="2.99" height="2.99"/><rect x="83.73" y="1283.77" width="2.99" height="2.99"/><rect x="86.42" y="1283.77" width="2.99" height="2.99"/><rect x="19.18" y="1286.46" width="2.99" height="2.99"/><rect x="21.87" y="1286.46" width="2.99" height="2.99"/><rect x="24.56" y="1286.46" width="2.99" height="2.99"/><rect x="27.25" y="1286.46" width="2.99" height="2.99"/><rect x="29.94" y="1286.46" width="2.99" height="2.99"/><rect x="32.63" y="1286.46" width="2.99" height="2.99"/><rect x="35.32" y="1286.46" width="2.99" height="2.99"/><rect x="67.59" y="1286.46" width="2.99" height="2.99"/><rect x="72.97" y="1286.46" width="2.99" height="2.99"/><rect x="75.66" y="1286.46" width="2.99" height="2.99"/><rect x="78.35" y="1286.46" width="2.99" height="2.99"/><rect x="81.04" y="1286.46" width="2.99" height="2.99"/><rect x="83.73" y="1286.46" width="2.99" height="2.99"/><rect x="86.42" y="1286.46" width="2.99" height="2.99"/><rect x="89.11" y="1286.46" width="2.99" height="2.99"/><rect x="13.80" y="1289.14" width="2.99" height="2.99"/><rect x="32.63" y="1289.14" width="2.99" height="2.99"/><rect x="35.32" y="1289.14" width="2.99" height="2.99"/><rect x="64.90" y="1289.14" width="2.99" height="2.99"/><rect x="13.80" y="1291.83" width="2.99" height="2.99"/><rect x="16.49" y="1291.83" width="2.99" height="2.99"/><rect x="19.18" y="1291.83" width="2.99" height="2.99"/><rect x="21.87" y="1291.83" width="2.99" height="2.99"/><rect x="24.56" y="1291.83" width="2.99" height="2.99"/><rect x="29.94" y="1291.83" width="2.99" height="2.99"/><rect x="64.90" y="1291.83" width="2.99" height="2.99"/><rect x="67.59" y="1291.83" width="2.99" height="2.99"/><rect x="70.28" y="1291.83" width="2.99" height="2.99"/><rect x="75.66" y="1291.83" width="2.99" height="2.99"/><rect x="83.73" y="1291.83" width="2.99" height="2.99"/><rect x="86.42" y="1291.83" width="2.99" height="2.99"/><rect x="89.11" y="1291.83" width="2.99" height="2.99"/><rect x="24.56" y="1294.52" width="2.99" height="2.99"/><rect x="27.25" y="1294.52" width="2.99" height="2.99"/><rect x="35.32" y="1294.52" width="2.99" height="2.99"/><rect x="64.90" y="1294.52" width="2.99" height="2.99"/><rect x="67.59" y="1294.52" width="2.99" height="2.99"/><rect x="72.97" y="1294.52" width="2.99" height="2.99"/><rect x="81.04" y="1294.52" width="2.99" height="2.99"/><rect x="83.73" y="1294.52" width="2.99" height="2.99"/><rect x="13.80" y="1297.21" width="2.99" height="2.99"/><rect x="16.49" y="1297.21" width="2.99" height="2.99"/><rect x="19.18" y="1297.21" width="2.99" height="2.99"/><rect x="24.56" y="1297.21" width="2.99" height="2.99"/><rect x="29.94" y="1297.21" width="2.99" height="2.99"/><rect x="38.01" y="1297.21" width="2.99" height="2.99"/><rect x="64.90" y="1297.21" width="2.99" height="2.99"/><rect x="67.59" y="1297.21" width="2.99" height="2.99"/><rect x="70.28" y="1297.21" width="2.99" height="2.99"/><rect x="72.97" y="1297.21" width="2.99" height="2.99"/><rect x="75.66" y="1297.21" width="2.99" height="2.99"/><rect x="78.35" y="1297.21" width="2.99" height="2.99"/><rect x="83.73" y="1297.21" width="2.99" height="2.99"/><rect x="13.80" y="1299.90" width="2.99" height="2.99"/><rect x="24.56" y="1299.90" width="2.99" height="2.99"/><rect x="27.25" y="1299.90" width="2.99" height="2.99"/><rect x="38.01" y="1299.90" width="2.99" height="2.99"/><rect x="40.70" y="1299.90" width="2.99" height="2.99"/><rect x="43.39" y="1299.90" width="2.99" height="2.99"/><rect x="46.08" y="1299.90" width="2.99" height="2.99"/><rect x="48.77" y="1299.90" width="2.99" height="2.99"/><rect x="54.14" y="1299.90" width="2.99" height="2.99"/><rect x="59.52" y="1299.90" width="2.99" height="2.99"/><rect x="62.21" y="1299.90" width="2.99" height="2.99"/><rect x="67.59" y="1299.90" width="2.99" height="2.99"/><rect x="70.28" y="1299.90" width="2.99" height="2.99"/><rect x="16.49" y="1302.59" width="2.99" height="2.99"/><rect x="21.87" y="1302.59" width="2.99" height="2.99"/><rect x="29.94" y="1302.59" width="2.99" height="2.99"/><rect x="32.63" y="1302.59" width="2.99" height="2.99"/><rect x="38.01" y="1302.59" width="2.99" height="2.99"/><rect x="40.70" y="1302.59" width="2.99" height="2.99"/><rect x="43.39" y="1302.59" width="2.99" height="2.99"/><rect x="46.08" y="1302.59" width="2.99" height="2.99"/><rect x="54.14" y="1302.59" width="2.99" height="2.99"/><rect x="59.52" y="1302.59" width="2.99" height="2.99"/><rect x="64.90" y="1302.59" width="2.99" height="2.99"/><rect x="67.59" y="1302.59" width="2.99" height="2.99"/><rect x="70.28" y="1302.59" width="2.99" height="2.99"/><rect x="72.97" y="1302.59" width="2.99" height="2.99"/><rect x="75.66" y="1302.59" width="2.99" height="2.99"/><rect x="78.35" y="1302.59" width="2.99" height="2.99"/><rect x="81.04" y="1302.59" width="2.99" height="2.99"/><rect x="89.11" y="1302.59" width="2.99" height="2.99"/><rect x="40.70" y="1305.28" width="2.99" height="2.99"/><rect x="43.39" y="1305.28" width="2.99" height="2.99"/><rect x="48.77" y="1305.28" width="2.99" height="2.99"/><rect x="51.46" y="1305.28" width="2.99" height="2.99"/><rect x="54.14" y="1305.28" width="2.99" height="2.99"/><rect x="56.83" y="1305.28" width="2.99" height="2.99"/><rect x="62.21" y="1305.28" width="2.99" height="2.99"/><rect x="67.59" y="1305.28" width="2.99" height="2.99"/><rect x="78.35" y="1305.28" width="2.99" height="2.99"/><rect x="81.04" y="1305.28" width="2.99" height="2.99"/><rect x="83.73" y="1305.28" width="2.99" height="2.99"/><rect x="13.80" y="1307.97" width="2.99" height="2.99"/><rect x="16.49" y="1307.97" width="2.99" height="2.99"/><rect x="19.18" y="1307.97" width="2.99" height="2.99"/><rect x="21.87" y="1307.97" width="2.99" height="2.99"/><rect x="24.56" y="1307.97" width="2.99" height="2.99"/><rect x="27.25" y="1307.97" width="2.99" height="2.99"/><rect x="29.94" y="1307.97" width="2.99" height="2.99"/><rect x="35.32" y="1307.97" width="2.99" height="2.99"/><rect x="48.77" y="1307.97" width="2.99" height="2.99"/><rect x="51.46" y="1307.97" width="2.99" height="2.99"/><rect x="54.14" y="1307.97" width="2.99" height="2.99"/><rect x="67.59" y="1307.97" width="2.99" height="2.99"/><rect x="72.97" y="1307.97" width="2.99" height="2.99"/><rect x="78.35" y="1307.97" width="2.99" height="2.99"/><rect x="83.73" y="1307.97" width="2.99" height="2.99"/><rect x="13.80" y="1310.66" width="2.99" height="2.99"/><rect x="29.94" y="1310.66" width="2.99" height="2.99"/><rect x="38.01" y="1310.66" width="2.99" height="2.99"/><rect x="40.70" y="1310.66" width="2.99" height="2.99"/><rect x="46.08" y="1310.66" width="2.99" height="2.99"/><rect x="48.77" y="1310.66" width="2.99" height="2.99"/><rect x="51.46" y="1310.66" width="2.99" height="2.99"/><rect x="62.21" y="1310.66" width="2.99" height="2.99"/><rect x="64.90" y="1310.66" width="2.99" height="2.99"/><rect x="67.59" y="1310.66" width="2.99" height="2.99"/><rect x="78.35" y="1310.66" width="2.99" height="2.99"/><rect x="81.04" y="1310.66" width="2.99" height="2.99"/><rect x="86.42" y="1310.66" width="2.99" height="2.99"/><rect x="89.11" y="1310.66" width="2.99" height="2.99"/><rect x="13.80" y="1313.35" width="2.99" height="2.99"/><rect x="19.18" y="1313.35" width="2.99" height="2.99"/><rect x="21.87" y="1313.35" width="2.99" height="2.99"/><rect x="24.56" y="1313.35" width="2.99" height="2.99"/><rect x="29.94" y="1313.35" width="2.99" height="2.99"/><rect x="43.39" y="1313.35" width="2.99" height="2.99"/><rect x="48.77" y="1313.35" width="2.99" height="2.99"/><rect x="54.14" y="1313.35" width="2.99" height="2.99"/><rect x="56.83" y="1313.35" width="2.99" height="2.99"/><rect x="62.21" y="1313.35" width="2.99" height="2.99"/><rect x="67.59" y="1313.35" width="2.99" height="2.99"/><rect x="70.28" y="1313.35" width="2.99" height="2.99"/><rect x="72.97" y="1313.35" width="2.99" height="2.99"/><rect x="75.66" y="1313.35" width="2.99" height="2.99"/><rect x="78.35" y="1313.35" width="2.99" height="2.99"/><rect x="83.73" y="1313.35" width="2.99" height="2.99"/><rect x="86.42" y="1313.35" width="2.99" height="2.99"/><rect x="89.11" y="1313.35" width="2.99" height="2.99"/><rect x="13.80" y="1316.04" width="2.99" height="2.99"/><rect x="19.18" y="1316.04" width="2.99" height="2.99"/><rect x="21.87" y="1316.04" width="2.99" height="2.99"/><rect x="24.56" y="1316.04" width="2.99" height="2.99"/><rect x="29.94" y="1316.04" width="2.99" height="2.99"/><rect x="40.70" y="1316.04" width="2.99" height="2.99"/><rect x="43.39" y="1316.04" width="2.99" height="2.99"/><rect x="51.46" y="1316.04" width="2.99" height="2.99"/><rect x="56.83" y="1316.04" width="2.99" height="2.99"/><rect x="59.52" y="1316.04" width="2.99" height="2.99"/><rect x="62.21" y="1316.04" width="2.99" height="2.99"/><rect x="64.90" y="1316.04" width="2.99" height="2.99"/><rect x="67.59" y="1316.04" width="2.99" height="2.99"/><rect x="70.28" y="1316.04" width="2.99" height="2.99"/><rect x="72.97" y="1316.04" width="2.99" height="2.99"/><rect x="78.35" y="1316.04" width="2.99" height="2.99"/><rect x="83.73" y="1316.04" width="2.99" height="2.99"/><rect x="86.42" y="1316.04" width="2.99" height="2.99"/><rect x="13.80" y="1318.73" width="2.99" height="2.99"/><rect x="19.18" y="1318.73" width="2.99" height="2.99"/><rect x="21.87" y="1318.73" width="2.99" height="2.99"/><rect x="24.56" y="1318.73" width="2.99" height="2.99"/><rect x="29.94" y="1318.73" width="2.99" height="2.99"/><rect x="38.01" y="1318.73" width="2.99" height="2.99"/><rect x="40.70" y="1318.73" width="2.99" height="2.99"/><rect x="48.77" y="1318.73" width="2.99" height="2.99"/><rect x="51.46" y="1318.73" width="2.99" height="2.99"/><rect x="54.14" y="1318.73" width="2.99" height="2.99"/><rect x="59.52" y="1318.73" width="2.99" height="2.99"/><rect x="67.59" y="1318.73" width="2.99" height="2.99"/><rect x="70.28" y="1318.73" width="2.99" height="2.99"/><rect x="78.35" y="1318.73" width="2.99" height="2.99"/><rect x="83.73" y="1318.73" width="2.99" height="2.99"/><rect x="86.42" y="1318.73" width="2.99" height="2.99"/><rect x="89.11" y="1318.73" width="2.99" height="2.99"/><rect x="13.80" y="1321.42" width="2.99" height="2.99"/><rect x="29.94" y="1321.42" width="2.99" height="2.99"/><rect x="38.01" y="1321.42" width="2.99" height="2.99"/><rect x="40.70" y="1321.42" width="2.99" height="2.99"/><rect x="43.39" y="1321.42" width="2.99" height="2.99"/><rect x="46.08" y="1321.42" width="2.99" height="2.99"/><rect x="51.46" y="1321.42" width="2.99" height="2.99"/><rect x="67.59" y="1321.42" width="2.99" height="2.99"/><rect x="70.28" y="1321.42" width="2.99" height="2.99"/><rect x="72.97" y="1321.42" width="2.99" height="2.99"/><rect x="78.35" y="1321.42" width="2.99" height="2.99"/><rect x="81.04" y="1321.42" width="2.99" height="2.99"/><rect x="86.42" y="1321.42" width="2.99" height="2.99"/><rect x="89.11" y="1321.42" width="2.99" height="2.99"/><rect x="13.80" y="1324.11" width="2.99" height="2.99"/><rect x="16.49" y="1324.11" width="2.99" height="2.99"/><rect x="19.18" y="1324.11" width="2.99" height="2.99"/><rect x="21.87" y="1324.11" width="2.99" height="2.99"/><rect x="24.56" y="1324.11" width="2.99" height="2.99"/><rect x="27.25" y="1324.11" width="2.99" height="2.99"/><rect x="29.94" y="1324.11" width="2.99" height="2.99"/><rect x="35.32" y="1324.11" width="2.99" height="2.99"/><rect x="38.01" y="1324.11" width="2.99" height="2.99"/><rect x="43.39" y="1324.11" width="2.99" height="2.99"/><rect x="46.08" y="1324.11" width="2.99" height="2.99"/><rect x="48.77" y="1324.11" width="2.99" height="2.99"/><rect x="64.90" y="1324.11" width="2.99" height="2.99"/><rect x="70.28" y="1324.11" width="2.99" height="2.99"/><rect x="75.66" y="1324.11" width="2.99" height="2.99"/><rect x="81.04" y="1324.11" width="2.99" height="2.99"/><rect x="83.73" y="1324.11" width="2.99" height="2.99"/><rect x="86.42" y="1324.11" width="2.99" height="2.99"/><rect x="89.11" y="1324.11" width="2.99" height="2.99"/></g>
<g transform="translate(53,1288) scale(0.26) translate(-538,-56)">
<g>
<g><path d="M500 63 C491 59 486 50 489 38 C490 35 493 35 493 38 C491 48 493 55 501 59 Z" fill="#e05a28"/><path d="M489.5 42 l3 0.5 M489 47 l3 0 M489.5 52 l3 -0.5 M491 57 l3 -1" stroke="#1e0c06" stroke-width="1.2"/><path d="M506 31 C506 26 510 23 515 23 C518 23 520 25 521 27 L519 31 C517 33 515 34 514 35 L519 37 L524 40 L523 44 L517 42 L513 41 C510 47 506 54 505 60 C508 62 515 62 520 64 L521 68 L514 68 C511 68 509 69 510 72 L513 76 L508 79 C503 77 500 72 499 66 C499 56 502 44 505 38 C505 36 506 33 506 31 Z" fill="#e05a28"/><path d="M515 26 L521 27.5 L518 31 Z" fill="#f0f0f0"/><path d="M508 27 L511 30 M507 33 L512 34 M505 39 L511 40 M504 44 L510 45 M503 49 L509 50 M502 54 L508 55 M501 60 L507 60 M502 65 L507 64 M504 70 L509 68 M516 39 L518 43 M520 40 L521 43.5 M512 62.5 L513 66.5 M516 63 L517 67.5 M510 73 L513 72" stroke="#1e0c06" stroke-width="1.3"/></g>
<g transform="translate(1076,0) scale(-1,1)"><g><path d="M500 63 C491 59 486 50 489 38 C490 35 493 35 493 38 C491 48 493 55 501 59 Z" fill="#e05a28"/><path d="M489.5 42 l3 0.5 M489 47 l3 0 M489.5 52 l3 -0.5 M491 57 l3 -1" stroke="#1e0c06" stroke-width="1.2"/><path d="M506 31 C506 26 510 23 515 23 C518 23 520 25 521 27 L519 31 C517 33 515 34 514 35 L519 37 L524 40 L523 44 L517 42 L513 41 C510 47 506 54 505 60 C508 62 515 62 520 64 L521 68 L514 68 C511 68 509 69 510 72 L513 76 L508 79 C503 77 500 72 499 66 C499 56 502 44 505 38 C505 36 506 33 506 31 Z" fill="#e05a28"/><path d="M515 26 L521 27.5 L518 31 Z" fill="#f0f0f0"/><path d="M508 27 L511 30 M507 33 L512 34 M505 39 L511 40 M504 44 L510 45 M503 49 L509 50 M502 54 L508 55 M501 60 L507 60 M502 65 L507 64 M504 70 L509 68 M516 39 L518 43 M520 40 L521 43.5 M512 62.5 L513 66.5 M516 63 L517 67.5 M510 73 L513 72" stroke="#1e0c06" stroke-width="1.3"/></g></g>
<path d="M527 20 A13.04 13.04 0 1 0 549 20 A11.7 11.7 0 1 1 527 20 Z" fill="#f4c21d"/>
<circle cx="538" cy="25" r="4" fill="#f6c51b"/>
<line x1="541.5" y1="25.0" x2="546.0" y2="25.0" stroke="#f6c51b" stroke-width="1.5"/><line x1="541.2" y1="26.5" x2="545.2" y2="28.5" stroke="#f6c51b" stroke-width="1.5"/><line x1="540.2" y1="27.7" x2="543.0" y2="31.3" stroke="#f6c51b" stroke-width="1.5"/><line x1="538.8" y1="28.4" x2="539.8" y2="32.8" stroke="#f6c51b" stroke-width="1.5"/><line x1="537.2" y1="28.4" x2="536.2" y2="32.8" stroke="#f6c51b" stroke-width="1.5"/><line x1="535.8" y1="27.7" x2="533.0" y2="31.3" stroke="#f6c51b" stroke-width="1.5"/><line x1="534.8" y1="26.5" x2="530.8" y2="28.5" stroke="#f6c51b" stroke-width="1.5"/><line x1="534.5" y1="25.0" x2="530.0" y2="25.0" stroke="#f6c51b" stroke-width="1.5"/><line x1="534.8" y1="23.5" x2="530.8" y2="21.5" stroke="#f6c51b" stroke-width="1.5"/><line x1="535.8" y1="22.3" x2="533.0" y2="18.7" stroke="#f6c51b" stroke-width="1.5"/><line x1="537.2" y1="21.6" x2="536.2" y2="17.2" stroke="#f6c51b" stroke-width="1.5"/><line x1="538.8" y1="21.6" x2="539.8" y2="17.2" stroke="#f6c51b" stroke-width="1.5"/><line x1="540.2" y1="22.3" x2="543.0" y2="18.7" stroke="#f6c51b" stroke-width="1.5"/><line x1="541.2" y1="23.5" x2="545.2" y2="21.5" stroke="#f6c51b" stroke-width="1.5"/>
<path d="M517 42 H558 V68 C558 77 548 82 538 84 C528 82 517 77 517 68 Z" fill="#fff" stroke="#c8c8c8" stroke-width="0.6"/>
<rect x="517" y="42" width="41" height="10.6" fill="#e32a2a"/>
<line x1="522.0" y1="43" x2="522.0" y2="51.5" stroke="#f3c33a" stroke-width="1.3"/>
<line x1="529.7" y1="43" x2="529.7" y2="51.5" stroke="#f3c33a" stroke-width="1.3"/>
<line x1="537.4" y1="43" x2="537.4" y2="51.5" stroke="#f3c33a" stroke-width="1.3"/>
<line x1="545.1" y1="43" x2="545.1" y2="51.5" stroke="#f3c33a" stroke-width="1.3"/>
<line x1="552.8" y1="43" x2="552.8" y2="51.5" stroke="#f3c33a" stroke-width="1.3"/>
<rect x="525" y="52.6" width="6.6" height="14.8" fill="#e32a2a"/><rect x="531.6" y="52.6" width="6.9" height="14.8" fill="#111"/><rect x="538.5" y="52.6" width="6.5" height="14.8" fill="#fff"/><rect x="545" y="52.6" width="6" height="14.8" fill="#f2df2a"/>
<path d="M517 52.6 H525 V72 H519 C517.5 70 517 69 517 68 Z" fill="#a8d8ea"/><path d="M520 55 l0 8 M518 58 h4" stroke="#3a8a4a" stroke-width="1"/>
<path d="M551 52.6 H558 V68 C558 71 556 73 551 75 Z" fill="#3aa64a"/>
<circle cx="538" cy="74" r="3" fill="#d8262c"/><path d="M545 70 l3 6 l3 -6" stroke="#444" fill="none" stroke-width="1.1"/><path d="M529 69 l-2.5 6 h5 z" fill="#3a7fc0"/>
<line x1="538" y1="67.4" x2="538" y2="84" stroke="#c8c8c8" stroke-width="0.5"/>
<path d="M487 77 C495 74 508 78 521 84 L523 90 C510 85 497 81 489 83 Z" fill="#f3cf3a" stroke="#a8861a" stroke-width="0.6"/>
<path d="M589 77 C581 74 568 78 555 84 L553 90 C566 85 579 81 587 83 Z" fill="#f3cf3a" stroke="#a8861a" stroke-width="0.6"/>
<path d="M513 85 C525 91 551 91 563 85 L561 95 C549 99 527 99 515 95 Z" fill="#f3cf3a" stroke="#a8861a" stroke-width="0.6"/>
<path d="M495 79 l18 5 M522 93 h32 M563 84 l14 -5" stroke="#6a5a1a" stroke-width="0.8" stroke-dasharray="1.5 0.8"/>
</g>
</g>
<rect x="110.7" y="1265.7" width="29.7" height="30.3" rx="3" fill="none" stroke="#d8f0f4" stroke-width="1.4"/>
<rect x="146.9" y="1265.7" width="30.2" height="30.3" rx="3" fill="none" stroke="#d8f0f4" stroke-width="1.4"/>
<rect x="184.0" y="1265.7" width="30.4" height="30.3" rx="3" fill="none" stroke="#d8f0f4" stroke-width="1.4"/>
<rect x="219.6" y="1265.7" width="29.7" height="30.3" rx="3" fill="none" stroke="#d8f0f4" stroke-width="1.4"/>
<rect x="255.1" y="1265.7" width="30.4" height="30.3" rx="3" fill="none" stroke="#d8f0f4" stroke-width="1.4"/>
<rect x="291.8" y="1265.7" width="30.8" height="30.3" rx="3" fill="none" stroke="#d8f0f4" stroke-width="1.4"/>
<rect x="116.5" y="1272" width="18.5" height="18.5" rx="5" fill="none" stroke="#fff" stroke-width="2"/><circle cx="125.7" cy="1281.2" r="4.3" fill="none" stroke="#fff" stroke-width="2"/><circle cx="130.6" cy="1276.2" r="1.2" fill="#fff"/>
<path d="M163.5 1292 V1281 H160.5 V1277.3 H163.5 V1275 C163.5 1271.8 165.3 1270.8 168 1270.8 H170.8 V1274.5 H168.6 C167.7 1274.5 167.5 1275 167.5 1275.8 V1277.3 H170.8 L170.3 1281 H167.5 V1292 Z" fill="#fff"/>
<path d="M189 1271.5 H195.5 L211 1291.5 H204.5 Z" fill="none" stroke="#fff" stroke-width="1.5"/><path d="M210 1271.5 L191 1291.5" stroke="#fff" stroke-width="1.6"/>
<path d="M228.5 1275.8 L241.5 1281.2 L228.5 1286.6 Z" fill="#fff"/>
<path d="M268.5 1271.7 H272.7 C273 1275 275 1277 278.8 1277.3 V1281.2 C276.3 1281.2 274.3 1280.4 272.7 1279.2 V1285.2 C272.7 1289.3 269.8 1292 266 1292 C262.3 1292 259.6 1289.2 259.6 1285.8 C259.6 1282.2 262.6 1279.4 266.4 1279.7 V1283.8 C264.8 1283.5 263.6 1284.5 263.6 1285.8 C263.6 1287.1 264.6 1288 265.9 1288 C267.4 1288 268.5 1287 268.5 1285.2 Z" fill="#fff"/>
<rect x="297" y="1277.5" width="4.6" height="14.3" fill="#fff"/><circle cx="299.3" cy="1272.8" r="2.6" fill="#fff"/>
<path d="M304.6 1277.5 H309 V1279.5 C310 1277.8 311.8 1277.1 313.6 1277.1 C317.3 1277.1 318.9 1279.4 318.9 1283.3 V1291.8 H314.3 V1284.3 C314.3 1282.4 313.7 1281.3 312 1281.3 C310.2 1281.3 309.2 1282.6 309.2 1284.5 V1291.8 H304.6 Z" fill="#fff"/>
<text x="110.5" y="1320.4" font-size="23" font-weight="bold" fill="#fff" text-anchor="start" >@</text>
<text x="134.5" y="1320.4" font-size="20" font-weight="bold" fill="#fff" text-anchor="start" textLength="70.5" lengthAdjust="spacing" >Stats</text>
<text x="206.5" y="1320.4" font-size="20" font-weight="normal" fill="#fff" text-anchor="start" textLength="115.5" lengthAdjust="spacing" >Malaysia</text>
<text x="1071.2" y="1214.4" font-size="13" font-weight="bold" fill="#111" text-anchor="end" textLength="364.9" lengthAdjust="spacingAndGlyphs" >Source: Performance of Wholesale &amp; Retail Trade, October 2025,</text>
<text x="1071.2" y="1226.7" font-size="13" font-weight="bold" fill="#111" text-anchor="end" textLength="237.5" lengthAdjust="spacingAndGlyphs" >Department of Statistics Malaysia (DOSM)</text>
<g>
<path d="M515.2 1286.5 L515.0 1285.0 L515.0 1283.5 L515.3 1281.8 L515.9 1280.1 L516.7 1278.5 L517.9 1276.9 L519.3 1275.4 L521.0 1274.1 L523.0 1273.0 L525.2 1272.1 L527.6 1271.5 L530.2 1271.3 L532.9 1271.3 L535.6 1271.8 L538.4 1272.6 L541.2 1273.8 L543.9 1275.5 L546.4 1277.5 L546.4 1277.5 L542.4 1276.6 L538.7 1276.1 L535.5 1276.1 L532.6 1276.4 L530.1 1276.9 L527.9 1277.5 L526.0 1278.2 L524.4 1279.0 L523.0 1279.8 L521.8 1280.5 L520.7 1281.2 L519.7 1281.9 L518.8 1282.6 L517.9 1283.3 L517.2 1284.0 L516.4 1284.8 L515.8 1285.6 L515.2 1286.5 Z" fill="#2c3a8c"/>
<path d="M523.0 1282.0 L524.2 1281.1 L525.5 1280.3 L527.1 1279.7 L528.8 1279.4 L530.7 1279.3 L532.6 1279.5 L534.6 1280.0 L536.6 1280.8 L538.6 1282.0 L540.4 1283.5 L542.2 1285.3 L543.7 1287.4 L545.0 1289.7 L546.0 1292.3 L546.6 1295.2 L546.9 1298.2 L546.9 1301.3 L546.4 1304.5 L546.4 1304.5 L545.2 1300.6 L543.7 1297.2 L542.1 1294.4 L540.4 1292.0 L538.8 1290.1 L537.1 1288.5 L535.6 1287.2 L534.1 1286.2 L532.7 1285.4 L531.5 1284.7 L530.3 1284.1 L529.2 1283.6 L528.2 1283.2 L527.1 1282.8 L526.1 1282.5 L525.1 1282.2 L524.0 1282.1 L523.0 1282.0 Z" fill="#2c3a8c"/>
<path d="M530.8 1286.5 L532.2 1287.0 L533.5 1287.8 L534.8 1288.9 L536.0 1290.2 L537.0 1291.8 L537.8 1293.6 L538.3 1295.6 L538.6 1297.7 L538.6 1300.0 L538.2 1302.3 L537.5 1304.7 L536.5 1307.1 L535.1 1309.4 L533.3 1311.6 L531.2 1313.6 L528.8 1315.3 L526.0 1316.8 L523.0 1318.0 L523.0 1318.0 L525.8 1315.0 L528.0 1312.1 L529.6 1309.2 L530.8 1306.6 L531.7 1304.2 L532.2 1302.0 L532.5 1300.0 L532.7 1298.2 L532.7 1296.6 L532.7 1295.2 L532.6 1293.9 L532.5 1292.7 L532.4 1291.5 L532.2 1290.5 L531.9 1289.4 L531.6 1288.4 L531.3 1287.4 L530.8 1286.5 Z" fill="#2c3a8c"/>
<path d="M530.8 1295.5 L531.0 1297.0 L531.0 1298.5 L530.7 1300.2 L530.1 1301.9 L529.3 1303.5 L528.1 1305.1 L526.7 1306.6 L525.0 1307.9 L523.0 1309.0 L520.8 1309.9 L518.4 1310.5 L515.8 1310.7 L513.1 1310.7 L510.4 1310.2 L507.6 1309.4 L504.8 1308.2 L502.1 1306.5 L499.6 1304.5 L499.6 1304.5 L503.6 1305.4 L507.3 1305.9 L510.5 1305.9 L513.4 1305.6 L515.9 1305.1 L518.1 1304.5 L520.0 1303.8 L521.6 1303.0 L523.0 1302.2 L524.2 1301.5 L525.3 1300.8 L526.3 1300.1 L527.2 1299.4 L528.1 1298.7 L528.8 1298.0 L529.6 1297.2 L530.2 1296.4 L530.8 1295.5 Z" fill="#d8262c"/>
<path d="M523.0 1300.0 L521.8 1300.9 L520.5 1301.7 L518.9 1302.3 L517.2 1302.6 L515.3 1302.7 L513.4 1302.5 L511.4 1302.0 L509.4 1301.2 L507.4 1300.0 L505.6 1298.5 L503.8 1296.7 L502.3 1294.6 L501.0 1292.3 L500.0 1289.7 L499.4 1286.8 L499.1 1283.8 L499.1 1280.7 L499.6 1277.5 L499.6 1277.5 L500.8 1281.4 L502.3 1284.8 L503.9 1287.6 L505.6 1290.0 L507.2 1291.9 L508.9 1293.5 L510.4 1294.8 L511.9 1295.8 L513.3 1296.6 L514.5 1297.3 L515.7 1297.9 L516.8 1298.4 L517.8 1298.8 L518.9 1299.2 L519.9 1299.5 L520.9 1299.8 L522.0 1299.9 L523.0 1300.0 Z" fill="#d8262c"/>
<path d="M515.2 1295.5 L513.8 1295.0 L512.5 1294.2 L511.2 1293.1 L510.0 1291.8 L509.0 1290.2 L508.2 1288.4 L507.7 1286.4 L507.4 1284.3 L507.4 1282.0 L507.8 1279.7 L508.5 1277.3 L509.5 1274.9 L510.9 1272.6 L512.7 1270.4 L514.8 1268.4 L517.2 1266.7 L520.0 1265.2 L523.0 1264.0 L523.0 1264.0 L520.2 1267.0 L518.0 1269.9 L516.4 1272.8 L515.2 1275.4 L514.3 1277.8 L513.8 1280.0 L513.5 1282.0 L513.3 1283.8 L513.3 1285.4 L513.3 1286.8 L513.4 1288.1 L513.5 1289.3 L513.6 1290.5 L513.8 1291.5 L514.1 1292.6 L514.4 1293.6 L514.7 1294.6 L515.2 1295.5 Z" fill="#d8262c"/>
<path d="M513.8 1283.3 L514.2 1281.9 L514.7 1280.5 L515.5 1279.2 L516.4 1277.9 L517.5 1276.7 L518.9 1275.5 L520.3 1274.5 L522.0 1273.7 L523.8 1273.0 L525.7 1272.5 L527.7 1272.3 L529.8 1272.2 L532.0 1272.4 L534.2 1272.8 L536.4 1273.5 L538.6 1274.5 L540.7 1275.7 L542.7 1277.2 L542.7 1277.2 L540.4 1276.0 L538.1 1275.0 L535.9 1274.2 L533.6 1273.8 L531.4 1273.6 L529.3 1273.6 L527.3 1273.8 L525.5 1274.2 L523.7 1274.8 L522.1 1275.5 L520.6 1276.3 L519.3 1277.2 L518.1 1278.1 L517.1 1279.2 L516.1 1280.2 L515.3 1281.2 L514.5 1282.3 L513.8 1283.3 Z" fill="#f2b530"/>
<path d="M525.1 1279.2 L526.5 1278.8 L527.9 1278.6 L529.5 1278.6 L531.1 1278.7 L532.7 1279.1 L534.3 1279.7 L535.9 1280.5 L537.5 1281.5 L539.0 1282.7 L540.3 1284.1 L541.6 1285.7 L542.7 1287.5 L543.6 1289.5 L544.3 1291.6 L544.8 1293.9 L545.1 1296.2 L545.0 1298.7 L544.8 1301.1 L544.8 1301.1 L544.7 1298.6 L544.5 1296.1 L543.9 1293.8 L543.2 1291.6 L542.3 1289.6 L541.3 1287.8 L540.1 1286.2 L538.8 1284.7 L537.4 1283.5 L536.0 1282.5 L534.6 1281.6 L533.1 1280.9 L531.7 1280.3 L530.3 1279.9 L528.9 1279.6 L527.6 1279.4 L526.3 1279.3 L525.1 1279.2 Z" fill="#f2b530"/>
<path d="M534.3 1286.9 L535.3 1287.9 L536.2 1289.1 L537.0 1290.4 L537.6 1291.9 L538.1 1293.4 L538.5 1295.1 L538.6 1296.9 L538.5 1298.8 L538.2 1300.7 L537.6 1302.6 L536.9 1304.5 L535.9 1306.3 L534.6 1308.1 L533.1 1309.8 L531.4 1311.3 L529.5 1312.7 L527.4 1313.9 L525.1 1314.9 L525.1 1314.9 L527.3 1313.6 L529.3 1312.1 L531.1 1310.5 L532.6 1308.8 L533.9 1307.0 L534.9 1305.2 L535.7 1303.4 L536.3 1301.5 L536.7 1299.7 L536.9 1298.0 L536.9 1296.3 L536.8 1294.7 L536.6 1293.2 L536.2 1291.8 L535.8 1290.4 L535.3 1289.2 L534.8 1288.0 L534.3 1286.9 Z" fill="#f2b530"/>
<path d="M505 1276 C515 1266 532 1263 551 1264" fill="none" stroke="#d8262c" stroke-width="2.2"/>
<circle cx="523" cy="1293" r="7.5" fill="#d8262c"/><path d="M519 1289 h8 l-2.5 4 l2.5 4 h-8 l2.5 -4 z" fill="#f4c43a"/>
<circle cx="537" cy="1262" r="1" fill="#c8262c"/>
<circle cx="543" cy="1262" r="1" fill="#c8262c"/>
<circle cx="549" cy="1262" r="1" fill="#c8262c"/>
<circle cx="538" cy="1268" r="1" fill="#c8262c"/>
<circle cx="544" cy="1267" r="1" fill="#c8262c"/>
<circle cx="549" cy="1266" r="1" fill="#c8262c"/>
</g>
<text x="608.0" y="1299.8" font-size="41" font-weight="bold" fill="#2c3a8c" text-anchor="middle" textLength="104.0" lengthAdjust="spacingAndGlyphs" >ASEAN</text>
<text x="608.0" y="1312.4" font-size="13.6" font-weight="bold" fill="#2c3a8c" text-anchor="middle" textLength="104.0" lengthAdjust="spacingAndGlyphs" >MALAYSIA 2025</text>
<text x="608.0" y="1319.4" font-size="5" font-weight="bold" fill="#2c3a8c" text-anchor="middle" textLength="104.0" lengthAdjust="spacingAndGlyphs" >INCLUSIVITY AND SUSTAINABILITY</text>
<g>
<path d="M677.9 1279.7 L684 1277.2 V1292 H677.9 Z" fill="#fff" stroke="#1f2a6e" stroke-width="1.3"/>
<path d="M679.1 1280.2 L680.95 1279.2 V1292 H679.1 Z" fill="#e2353a"/>
<path d="M684 1270.5 L690.2 1268 V1292 H684 Z" fill="#fff" stroke="#1f2a6e" stroke-width="1.3"/>
<path d="M685.2 1271 L687.1 1270 V1292 H685.2 Z" fill="#e2353a"/>
<path d="M690.2 1263.8 L697.6 1261.3 V1292 H690.2 Z" fill="#fff" stroke="#1f2a6e" stroke-width="1.3"/>
<path d="M691.4000000000001 1264.3 L693.9000000000001 1263.3 V1292 H691.4000000000001 Z" fill="#e2353a"/>
<path d="M697.6 1270.3 L703.6 1267.8 V1292 H697.6 Z" fill="#fff" stroke="#1f2a6e" stroke-width="1.3"/>
<path d="M698.8000000000001 1270.8 L700.6 1269.8 V1292 H698.8000000000001 Z" fill="#e2353a"/>
<path d="M703.6 1279.9 L709.8 1277.4 V1292 H703.6 Z" fill="#fff" stroke="#1f2a6e" stroke-width="1.3"/>
<path d="M704.8000000000001 1280.4 L706.7 1279.4 V1292 H704.8000000000001 Z" fill="#e2353a"/>
<path d="M677.2 1286 L710.5 1288 V1300 A16.6 16 0 0 1 677.2 1300 Z" fill="#1f2a6e"/>
<path d="M697 1288.5 A11.5 11.5 0 1 0 697 1311 A10 10 0 1 1 697 1288.5 Z" fill="#f4c43a"/>
<circle cx="698.5" cy="1299.5" r="3.6" fill="#f4c43a"/>
<line x1="701.5" y1="1299.5" x2="704.7" y2="1299.5" stroke="#f4c43a" stroke-width="1"/><line x1="701.3" y1="1300.6" x2="704.2" y2="1301.9" stroke="#f4c43a" stroke-width="1"/><line x1="700.6" y1="1301.6" x2="702.9" y2="1303.9" stroke="#f4c43a" stroke-width="1"/><line x1="699.6" y1="1302.3" x2="700.9" y2="1305.2" stroke="#f4c43a" stroke-width="1"/><line x1="698.5" y1="1302.5" x2="698.5" y2="1305.7" stroke="#f4c43a" stroke-width="1"/><line x1="697.4" y1="1302.3" x2="696.1" y2="1305.2" stroke="#f4c43a" stroke-width="1"/><line x1="696.4" y1="1301.6" x2="694.1" y2="1303.9" stroke="#f4c43a" stroke-width="1"/><line x1="695.7" y1="1300.6" x2="692.8" y2="1301.9" stroke="#f4c43a" stroke-width="1"/><line x1="695.5" y1="1299.5" x2="692.3" y2="1299.5" stroke="#f4c43a" stroke-width="1"/><line x1="695.7" y1="1298.4" x2="692.8" y2="1297.1" stroke="#f4c43a" stroke-width="1"/><line x1="696.4" y1="1297.4" x2="694.1" y2="1295.1" stroke="#f4c43a" stroke-width="1"/><line x1="697.4" y1="1296.7" x2="696.1" y2="1293.8" stroke="#f4c43a" stroke-width="1"/><line x1="698.5" y1="1296.5" x2="698.5" y2="1293.3" stroke="#f4c43a" stroke-width="1"/><line x1="699.6" y1="1296.7" x2="700.9" y2="1293.8" stroke="#f4c43a" stroke-width="1"/><line x1="700.6" y1="1297.4" x2="702.9" y2="1295.1" stroke="#f4c43a" stroke-width="1"/><line x1="701.3" y1="1298.4" x2="704.2" y2="1297.1" stroke="#f4c43a" stroke-width="1"/>
</g>
<text x="769.4" y="1286.6" font-size="22" font-weight="bold" fill="#1f2a6e" text-anchor="middle" textLength="105.5" lengthAdjust="spacingAndGlyphs" >MALAYSIA</text>
<text x="769.8" y="1306.0" font-size="25" font-weight="bold" fill="#1f2a6e" text-anchor="middle" textLength="106.3" lengthAdjust="spacingAndGlyphs" >MADANI</text>
<text x="770.2" y="1322.5" font-size="17" font-weight="bold" font-style="italic" font-family="Liberation Serif" fill="#1f2a6e" text-anchor="middle" textLength="97.6" lengthAdjust="spacingAndGlyphs">ke<tspan fill="#d8262c">m</tspan>ampanan</text>
<g>
<circle cx="852.5" cy="1273.5" r="11.5" fill="none" stroke="#29aae2" stroke-width="1.6"/>
<circle cx="852.5" cy="1273.5" r="6.8" fill="#2f5f8a"/><path d="M848 1271 C851 1269 855 1270 856 1273 C854 1276 851 1276 849 1274 Z" fill="#6a9a6a"/>
<path d="M867 1262 H874.5 C881.5 1262 886 1267 886 1273.5 C886 1280 881.5 1285 874.5 1285 H867 Z" fill="none" stroke="#29aae2" stroke-width="1.6"/>
<path d="M871.5 1266.5 H874.5 C878.5 1266.5 881 1269.5 881 1273.5 C881 1277.5 878.5 1280.5 874.5 1280.5 H871.5 Z" fill="none" stroke="#29aae2" stroke-width="1.3"/>
<rect x="888.5" y="1262.0" width="5.5" height="23.0" fill="#29aae2" />
<path d="M895.5 1285 V1262 H900.5 L914.5 1277 V1262 H920 V1285 H915.5 L901 1269.5 V1285 Z" fill="#29aae2"/>
<rect x="893.0" y="1269.5" width="27.0" height="5.5" fill="#fff" />
<text x="906.5" y="1274.3" font-size="5.5" font-weight="bold" fill="#1f5a8a" text-anchor="middle" textLength="26.0" lengthAdjust="spacingAndGlyphs" >2024-2025</text>
</g>
<text x="880.4" y="1291.4" font-size="6.8" font-weight="bold" fill="#1f5a80" text-anchor="middle" textLength="80.0" lengthAdjust="spacingAndGlyphs" >OPEN DATA INVENTORY</text>
<text x="880.4" y="1304.8" font-size="16.8" font-weight="bold" fill="#1d5a8a" text-anchor="middle" textLength="80.0" lengthAdjust="spacingAndGlyphs" >MALAYSIA</text>
<text x="880.4" y="1313.6" font-size="11.2" font-weight="bold" fill="#b8913a" text-anchor="middle" textLength="80.0" lengthAdjust="spacingAndGlyphs" >NUMBER ONE</text>
<text x="880.6" y="1321.5" font-size="9.6" font-weight="bold" fill="#1d5a8a" text-anchor="middle" textLength="62.0" lengthAdjust="spacingAndGlyphs" >IN THE WORLD</text>
<g>
<path d="M973.4 1266.3 A19.5 19.5 0 0 1 989.5 1285.5" fill="none" stroke="#e0262c" stroke-width="5.5"/>
<path d="M989.5 1285.5 A19.5 19.5 0 0 1 970.0 1305.0" fill="none" stroke="#f2e02a" stroke-width="5.5"/>
<path d="M970.0 1305.0 A19.5 19.5 0 0 1 950.5 1286.2" fill="none" stroke="#2c4aa8" stroke-width="5.5"/>
<path d="M940 1270 L946.5 1263.5 L957.5 1281 L953.5 1289 Z" fill="#2a9aa4"/>
<path d="M953.5 1289 L957 1252 L964 1249.5 L962.5 1290 Z" fill="#3aa8b0"/><path d="M957 1252 L964 1249.5 L963.5 1268 L956 1270 Z" fill="#7fcaca"/>
<path d="M962.5 1290 L963.5 1268 L970.5 1266.5 L969.5 1292 Z" fill="#2a9aa4"/><path d="M963.5 1268 L970.5 1266.5 L970.2 1276 L963.2 1277 Z" fill="#8fd0d0"/>
<path d="M969.5 1292 L970.2 1276 L976.5 1275 L976 1292.5 Z" fill="#3aa8b0"/><path d="M970.2 1276 L976.5 1275 L976.3 1281 L970 1282 Z" fill="#8fd0d0"/>
<circle cx="970" cy="1285.5" r="25" fill="none" stroke="#4a5ab0" stroke-width="1.2" stroke-dasharray="1.2 1.2" opacity="0.55"/>
</g>
<text x="970.0" y="1323.8" font-size="12" font-weight="bold" fill="#111" text-anchor="middle" textLength="46.3" lengthAdjust="spacingAndGlyphs" >20 October</text>
<g>
<path d="M1040.1 1249.4 A30 30 0 0 1 1049.7 1251.2 L1045.6 1262.5 A18 18 0 0 0 1039.9 1261.4 Z" fill="#e5243b"/>
<path d="M1050.9 1251.7 A30 30 0 0 1 1059.2 1256.8 L1051.3 1265.8 A18 18 0 0 0 1046.4 1262.8 Z" fill="#dda63a"/>
<path d="M1060.2 1257.7 A30 30 0 0 1 1066.1 1265.5 L1055.4 1271.0 A18 18 0 0 0 1051.9 1266.4 Z" fill="#4c9f38"/>
<path d="M1066.6 1266.6 A30 30 0 0 1 1069.3 1276.0 L1057.4 1277.4 A18 18 0 0 0 1055.8 1271.7 Z" fill="#c5192d"/>
<path d="M1069.4 1277.3 A30 30 0 0 1 1068.5 1287.0 L1056.9 1284.0 A18 18 0 0 0 1057.5 1278.1 Z" fill="#ff3a21"/>
<path d="M1068.2 1288.2 A30 30 0 0 1 1063.8 1297.0 L1054.1 1289.9 A18 18 0 0 0 1056.7 1284.7 Z" fill="#26bde2"/>
<path d="M1063.1 1298.0 A30 30 0 0 1 1055.8 1304.6 L1049.3 1294.5 A18 18 0 0 0 1053.6 1290.5 Z" fill="#fcc30b"/>
<path d="M1054.8 1305.2 A30 30 0 0 1 1045.6 1308.8 L1043.2 1297.0 A18 18 0 0 0 1048.7 1294.9 Z" fill="#a21942"/>
<path d="M1044.4 1309.0 A30 30 0 0 1 1034.6 1309.0 L1036.6 1297.2 A18 18 0 0 0 1042.4 1297.2 Z" fill="#fd6925"/>
<path d="M1033.4 1308.8 A30 30 0 0 1 1024.2 1305.2 L1030.3 1294.9 A18 18 0 0 0 1035.8 1297.0 Z" fill="#dd1367"/>
<path d="M1023.2 1304.6 A30 30 0 0 1 1015.9 1298.0 L1025.4 1290.5 A18 18 0 0 0 1029.7 1294.5 Z" fill="#fd9d24"/>
<path d="M1015.2 1297.0 A30 30 0 0 1 1010.8 1288.2 L1022.3 1284.7 A18 18 0 0 0 1024.9 1289.9 Z" fill="#bf8b2e"/>
<path d="M1010.5 1287.0 A30 30 0 0 1 1009.6 1277.3 L1021.5 1278.1 A18 18 0 0 0 1022.1 1284.0 Z" fill="#3f7e44"/>
<path d="M1009.7 1276.0 A30 30 0 0 1 1012.4 1266.6 L1023.2 1271.7 A18 18 0 0 0 1021.6 1277.4 Z" fill="#0a97d9"/>
<path d="M1012.9 1265.5 A30 30 0 0 1 1018.8 1257.7 L1027.1 1266.4 A18 18 0 0 0 1023.6 1271.0 Z" fill="#56c02b"/>
<path d="M1019.8 1256.8 A30 30 0 0 1 1028.1 1251.7 L1032.6 1262.8 A18 18 0 0 0 1027.7 1265.8 Z" fill="#00689d"/>
<path d="M1029.3 1251.2 A30 30 0 0 1 1038.9 1249.4 L1039.1 1261.4 A18 18 0 0 0 1033.4 1262.5 Z" fill="#19486a"/>
</g>
<text x="1039.5" y="1275.0" font-size="3.2" font-weight="bold" fill="#19486a" text-anchor="middle" textLength="22.0" lengthAdjust="spacingAndGlyphs" >SUSTAINABLE</text>
<text x="1039.5" y="1278.5" font-size="3.2" font-weight="bold" fill="#19486a" text-anchor="middle" textLength="22.0" lengthAdjust="spacingAndGlyphs" >DEVELOPMENT</text>
<text x="1039.5" y="1284.0" font-size="6" font-weight="bold" fill="#2a80c8" text-anchor="middle" textLength="22.0" lengthAdjust="spacingAndGlyphs" >GOALS</text>
<text x="1039.5" y="1288.5" font-size="4.5" font-weight="bold" fill="#19486a" text-anchor="middle" textLength="22.0" lengthAdjust="spacingAndGlyphs" >MALAYSIA</text>
<text x="1039.5" y="1323.8" font-size="12" font-weight="bold" fill="#111" text-anchor="middle" textLength="53.0" lengthAdjust="spacingAndGlyphs" >2016 - 2030</text>
</svg></body></html>
